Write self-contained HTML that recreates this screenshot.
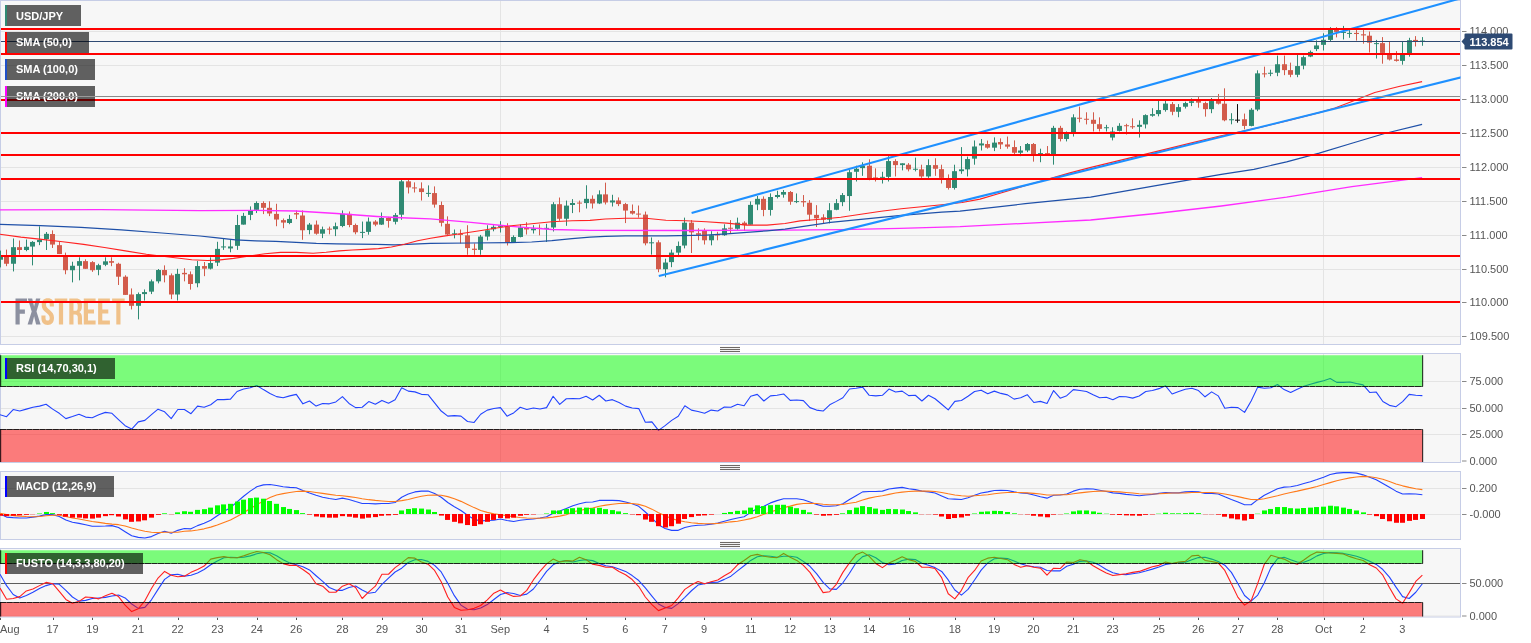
<!DOCTYPE html>
<html><head><meta charset="utf-8"><title>USD/JPY</title>
<style>
html,body{margin:0;padding:0;background:#fff;}
body{width:1531px;height:643px;overflow:hidden;font-family:"Liberation Sans",sans-serif;}
svg{display:block}
.ax{font-family:"Liberation Sans",sans-serif;font-size:11px;fill:#555;}
.pl{font-family:"Liberation Sans",sans-serif;font-size:11px;font-weight:bold;fill:#fff;}
.lb{font-family:"Liberation Sans",sans-serif;font-size:11px;font-weight:bold;fill:#fff;}
</style></head><body>
<svg width="1531" height="643" viewBox="0 0 1531 643">
<defs>
<filter id="ga" x="-5%" y="-30%" width="110%" height="160%"><feOffset dx="0" dy="0"/></filter>
<clipPath id="cm"><rect x="0" y="0" width="1460.5" height="345"/></clipPath>
<clipPath id="cr"><rect x="0" y="355.2" width="1460.5" height="106.8"/></clipPath>
<clipPath id="cd"><rect x="0" y="472" width="1460.5" height="67"/></clipPath>
<clipPath id="cf"><rect x="0" y="550.2" width="1460.5" height="66.3"/></clipPath>
</defs>
<rect x="0.5" y="0.5" width="1460.0" height="344.0" fill="#f7f7f7" stroke="#c6cde6" stroke-width="1"/>
<rect x="0.5" y="353.5" width="1460.0" height="109.0" fill="#f7f7f7" stroke="#c6cde6" stroke-width="1"/>
<rect x="0.5" y="471.5" width="1460.0" height="68.0" fill="#f7f7f7" stroke="#c6cde6" stroke-width="1"/>
<rect x="0.5" y="548.5" width="1460.0" height="68.5" fill="#f7f7f7" stroke="#c6cde6" stroke-width="1"/>
<line x1="1" y1="31.5" x2="1460.0" y2="31.5" stroke="#e4e4e4" stroke-width="1" />
<line x1="1" y1="65.5" x2="1460.0" y2="65.5" stroke="#e4e4e4" stroke-width="1" />
<line x1="1" y1="99.5" x2="1460.0" y2="99.5" stroke="#e4e4e4" stroke-width="1" />
<line x1="1" y1="133.5" x2="1460.0" y2="133.5" stroke="#e4e4e4" stroke-width="1" />
<line x1="1" y1="167.5" x2="1460.0" y2="167.5" stroke="#e4e4e4" stroke-width="1" />
<line x1="1" y1="201.5" x2="1460.0" y2="201.5" stroke="#e4e4e4" stroke-width="1" />
<line x1="1" y1="235.5" x2="1460.0" y2="235.5" stroke="#e4e4e4" stroke-width="1" />
<line x1="1" y1="269.5" x2="1460.0" y2="269.5" stroke="#e4e4e4" stroke-width="1" />
<line x1="1" y1="302.5" x2="1460.0" y2="302.5" stroke="#e4e4e4" stroke-width="1" />
<line x1="1" y1="336.5" x2="1460.0" y2="336.5" stroke="#e4e4e4" stroke-width="1" />
<line x1="500.5" y1="1" x2="500.5" y2="344" stroke="#e4e4e4" stroke-width="1"/>
<line x1="1323.5" y1="1" x2="1323.5" y2="344" stroke="#e4e4e4" stroke-width="1"/>
<line x1="500.5" y1="354" x2="500.5" y2="462" stroke="#e4e4e4" stroke-width="1"/>
<line x1="1323.5" y1="354" x2="1323.5" y2="462" stroke="#e4e4e4" stroke-width="1"/>
<line x1="500.5" y1="472" x2="500.5" y2="539" stroke="#e4e4e4" stroke-width="1"/>
<line x1="1323.5" y1="472" x2="1323.5" y2="539" stroke="#e4e4e4" stroke-width="1"/>
<line x1="500.5" y1="549" x2="500.5" y2="616.5" stroke="#e4e4e4" stroke-width="1"/>
<line x1="1323.5" y1="549" x2="1323.5" y2="616.5" stroke="#e4e4e4" stroke-width="1"/>
<line x1="1" y1="381.5" x2="1460.0" y2="381.5" stroke="#e4e4e4" stroke-width="1" />
<line x1="1" y1="408.5" x2="1460.0" y2="408.5" stroke="#e4e4e4" stroke-width="1" />
<line x1="1" y1="434.5" x2="1460.0" y2="434.5" stroke="#e4e4e4" stroke-width="1" />
<line x1="1" y1="488.5" x2="1460.0" y2="488.5" stroke="#e4e4e4" stroke-width="1" />
<line x1="1" y1="514.5" x2="1460.0" y2="514.5" stroke="#e4e4e4" stroke-width="1" />
<g clip-path="url(#cm)">
<line x1="0.5" y1="250.61" x2="0.5" y2="267.4" stroke="#2f8a73" stroke-width="1"/>
<rect x="-2.0" y="255.67" width="5" height="4.04" fill="#2f8a73"/>
<line x1="6.5" y1="249.6" x2="6.5" y2="266.18" stroke="#d25b4b" stroke-width="1"/>
<rect x="4.0" y="256.68" width="5" height="7.08" fill="#d25b4b"/>
<line x1="13.5" y1="238.48" x2="13.5" y2="271.44" stroke="#2f8a73" stroke-width="1"/>
<rect x="11.0" y="247.17" width="5" height="16.58" fill="#2f8a73"/>
<line x1="19.5" y1="240.5" x2="19.5" y2="254.66" stroke="#d25b4b" stroke-width="1"/>
<rect x="17.0" y="247.17" width="5" height="2.83" fill="#d25b4b"/>
<line x1="26.5" y1="239.49" x2="26.5" y2="251.22" stroke="#2f8a73" stroke-width="1"/>
<rect x="24.0" y="246.77" width="5" height="3.24" fill="#2f8a73"/>
<line x1="32.5" y1="241.11" x2="32.5" y2="265.37" stroke="#2f8a73" stroke-width="1"/>
<rect x="30.0" y="241.92" width="5" height="4.65" fill="#2f8a73"/>
<line x1="39.5" y1="226.34" x2="39.5" y2="245.15" stroke="#2f8a73" stroke-width="1"/>
<rect x="37.0" y="239.89" width="5" height="2.22" fill="#2f8a73"/>
<line x1="46.5" y1="232.01" x2="46.5" y2="250.01" stroke="#2f8a73" stroke-width="1"/>
<rect x="44.0" y="233.83" width="5" height="5.26" fill="#2f8a73"/>
<line x1="52.5" y1="230.39" x2="52.5" y2="247.98" stroke="#d25b4b" stroke-width="1"/>
<rect x="50.0" y="234.03" width="5" height="10.52" fill="#d25b4b"/>
<line x1="59.5" y1="241.92" x2="59.5" y2="254.05" stroke="#d25b4b" stroke-width="1"/>
<rect x="57.0" y="245.15" width="5" height="8.9" fill="#d25b4b"/>
<line x1="65.5" y1="252.63" x2="65.5" y2="274.27" stroke="#d25b4b" stroke-width="1"/>
<rect x="63.0" y="255.06" width="5" height="15.17" fill="#d25b4b"/>
<line x1="72.5" y1="261.73" x2="72.5" y2="282.36" stroke="#2f8a73" stroke-width="1"/>
<rect x="70.0" y="265.78" width="5" height="4.45" fill="#2f8a73"/>
<line x1="79.5" y1="257.29" x2="79.5" y2="280.34" stroke="#2f8a73" stroke-width="1"/>
<rect x="77.0" y="261.13" width="5" height="4.65" fill="#2f8a73"/>
<line x1="85.5" y1="259.31" x2="85.5" y2="268.81" stroke="#d25b4b" stroke-width="1"/>
<rect x="83.0" y="261.13" width="5" height="7.68" fill="#d25b4b"/>
<line x1="92.5" y1="261.13" x2="92.5" y2="271.85" stroke="#d25b4b" stroke-width="1"/>
<rect x="90.0" y="262.14" width="5" height="8.09" fill="#d25b4b"/>
<line x1="98.5" y1="263.76" x2="98.5" y2="275.28" stroke="#2f8a73" stroke-width="1"/>
<rect x="96.0" y="265.17" width="5" height="4.65" fill="#2f8a73"/>
<line x1="105.5" y1="257.29" x2="105.5" y2="266.18" stroke="#2f8a73" stroke-width="1"/>
<rect x="103.0" y="261.33" width="5" height="3.44" fill="#2f8a73"/>
<line x1="111.5" y1="257.29" x2="111.5" y2="266.18" stroke="#d25b4b" stroke-width="1"/>
<rect x="109.0" y="261.13" width="5" height="1.62" fill="#d25b4b"/>
<line x1="118.5" y1="262.75" x2="118.5" y2="284.99" stroke="#d25b4b" stroke-width="1"/>
<rect x="116.0" y="263.76" width="5" height="12.94" fill="#d25b4b"/>
<line x1="125.5" y1="275.28" x2="125.5" y2="294.9" stroke="#d25b4b" stroke-width="1"/>
<rect x="123.0" y="276.7" width="5" height="18.2" fill="#d25b4b"/>
<line x1="131.5" y1="288.43" x2="131.5" y2="309.46" stroke="#d25b4b" stroke-width="1"/>
<rect x="129.0" y="294.49" width="5" height="11.32" fill="#d25b4b"/>
<line x1="138.5" y1="292.47" x2="138.5" y2="319.37" stroke="#2f8a73" stroke-width="1"/>
<rect x="136.0" y="294.09" width="5" height="11.73" fill="#2f8a73"/>
<line x1="144.5" y1="289.44" x2="144.5" y2="300.56" stroke="#2f8a73" stroke-width="1"/>
<rect x="142.0" y="292.07" width="5" height="2.02" fill="#2f8a73"/>
<line x1="151.5" y1="279.53" x2="151.5" y2="294.09" stroke="#2f8a73" stroke-width="1"/>
<rect x="149.0" y="281.35" width="5" height="10.31" fill="#2f8a73"/>
<line x1="158.5" y1="269.01" x2="158.5" y2="283.37" stroke="#2f8a73" stroke-width="1"/>
<rect x="156.0" y="270.03" width="5" height="11.32" fill="#2f8a73"/>
<line x1="164.5" y1="265.37" x2="164.5" y2="282.36" stroke="#d25b4b" stroke-width="1"/>
<rect x="162.0" y="270.03" width="5" height="5.26" fill="#d25b4b"/>
<line x1="171.5" y1="273.46" x2="171.5" y2="299.15" stroke="#d25b4b" stroke-width="1"/>
<rect x="169.0" y="275.28" width="5" height="19.21" fill="#d25b4b"/>
<line x1="177.5" y1="268.81" x2="177.5" y2="300.56" stroke="#2f8a73" stroke-width="1"/>
<rect x="175.0" y="273.87" width="5" height="20.63" fill="#2f8a73"/>
<line x1="184.5" y1="268.21" x2="184.5" y2="281.35" stroke="#d25b4b" stroke-width="1"/>
<rect x="182.0" y="272.86" width="5" height="1.42" fill="#d25b4b"/>
<line x1="190.5" y1="271.44" x2="190.5" y2="289.64" stroke="#d25b4b" stroke-width="1"/>
<rect x="188.0" y="274.27" width="5" height="9.71" fill="#d25b4b"/>
<line x1="197.5" y1="261" x2="197.5" y2="287.29" stroke="#2f8a73" stroke-width="1"/>
<rect x="195.0" y="266.06" width="5" height="17.19" fill="#2f8a73"/>
<line x1="204.5" y1="262.01" x2="204.5" y2="276.17" stroke="#d25b4b" stroke-width="1"/>
<rect x="202.0" y="266.06" width="5" height="2.63" fill="#d25b4b"/>
<line x1="210.5" y1="257.36" x2="210.5" y2="269.49" stroke="#2f8a73" stroke-width="1"/>
<rect x="208.0" y="263.02" width="5" height="5.66" fill="#2f8a73"/>
<line x1="217.5" y1="241.79" x2="217.5" y2="266.06" stroke="#2f8a73" stroke-width="1"/>
<rect x="215.0" y="248.87" width="5" height="13.75" fill="#2f8a73"/>
<line x1="223.5" y1="238.76" x2="223.5" y2="249.88" stroke="#2f8a73" stroke-width="1"/>
<rect x="221.0" y="246.44" width="5" height="1" fill="#2f8a73"/>
<line x1="230.5" y1="239.77" x2="230.5" y2="252.31" stroke="#2f8a73" stroke-width="1"/>
<rect x="228.0" y="246.44" width="5" height="2.02" fill="#2f8a73"/>
<line x1="237.5" y1="214.89" x2="237.5" y2="249.88" stroke="#2f8a73" stroke-width="1"/>
<rect x="235.0" y="225.01" width="5" height="20.83" fill="#2f8a73"/>
<line x1="243.5" y1="212.87" x2="243.5" y2="224.6" stroke="#2f8a73" stroke-width="1"/>
<rect x="241.0" y="215.9" width="5" height="8.7" fill="#2f8a73"/>
<line x1="250.5" y1="206.4" x2="250.5" y2="220.15" stroke="#2f8a73" stroke-width="1"/>
<rect x="248.0" y="210.44" width="5" height="4.45" fill="#2f8a73"/>
<line x1="256.5" y1="201.34" x2="256.5" y2="213.07" stroke="#2f8a73" stroke-width="1"/>
<rect x="254.0" y="202.96" width="5" height="6.88" fill="#2f8a73"/>
<line x1="263.5" y1="201.34" x2="263.5" y2="214.08" stroke="#d25b4b" stroke-width="1"/>
<rect x="261.0" y="202.96" width="5" height="4.85" fill="#d25b4b"/>
<line x1="269.5" y1="201.34" x2="269.5" y2="216.11" stroke="#d25b4b" stroke-width="1"/>
<rect x="267.0" y="207.82" width="5" height="5.66" fill="#d25b4b"/>
<line x1="276.5" y1="203.77" x2="276.5" y2="226.22" stroke="#d25b4b" stroke-width="1"/>
<rect x="274.0" y="213.88" width="5" height="5.66" fill="#d25b4b"/>
<line x1="283.5" y1="218.53" x2="283.5" y2="228.24" stroke="#d25b4b" stroke-width="1"/>
<rect x="281.0" y="220.15" width="5" height="2.43" fill="#d25b4b"/>
<line x1="289.5" y1="214.89" x2="289.5" y2="224.2" stroke="#2f8a73" stroke-width="1"/>
<rect x="287.0" y="218.94" width="5" height="4.04" fill="#2f8a73"/>
<line x1="296.5" y1="210.44" x2="296.5" y2="219.14" stroke="#d25b4b" stroke-width="1"/>
<rect x="294.0" y="213.07" width="5" height="1.42" fill="#d25b4b"/>
<line x1="302.5" y1="210.44" x2="302.5" y2="239.77" stroke="#d25b4b" stroke-width="1"/>
<rect x="300.0" y="215.5" width="5" height="14.76" fill="#d25b4b"/>
<line x1="309.5" y1="222.98" x2="309.5" y2="234.31" stroke="#2f8a73" stroke-width="1"/>
<rect x="307.0" y="224.6" width="5" height="5.46" fill="#2f8a73"/>
<line x1="316.5" y1="220.56" x2="316.5" y2="234.71" stroke="#d25b4b" stroke-width="1"/>
<rect x="314.0" y="224.6" width="5" height="9.1" fill="#d25b4b"/>
<line x1="322.5" y1="226.62" x2="322.5" y2="238.15" stroke="#2f8a73" stroke-width="1"/>
<rect x="320.0" y="229.25" width="5" height="4.45" fill="#2f8a73"/>
<line x1="329.5" y1="226.62" x2="329.5" y2="234.31" stroke="#d25b4b" stroke-width="1"/>
<rect x="327.0" y="228.65" width="5" height="1" fill="#d25b4b"/>
<line x1="335.5" y1="222.58" x2="335.5" y2="236.13" stroke="#2f8a73" stroke-width="1"/>
<rect x="333.0" y="226.22" width="5" height="3.03" fill="#2f8a73"/>
<line x1="342.5" y1="210.44" x2="342.5" y2="227.23" stroke="#2f8a73" stroke-width="1"/>
<rect x="340.0" y="213.88" width="5" height="12.13" fill="#2f8a73"/>
<line x1="349.5" y1="211.46" x2="349.5" y2="227.23" stroke="#d25b4b" stroke-width="1"/>
<rect x="347.0" y="213.88" width="5" height="11.12" fill="#d25b4b"/>
<line x1="355.5" y1="223.59" x2="355.5" y2="234.31" stroke="#d25b4b" stroke-width="1"/>
<rect x="353.0" y="225.01" width="5" height="7.28" fill="#d25b4b"/>
<line x1="362.5" y1="221.57" x2="362.5" y2="238.15" stroke="#2f8a73" stroke-width="1"/>
<rect x="360.0" y="231.88" width="5" height="1" fill="#2f8a73"/>
<line x1="368.5" y1="217.52" x2="368.5" y2="234.71" stroke="#2f8a73" stroke-width="1"/>
<rect x="366.0" y="221.57" width="5" height="10.31" fill="#2f8a73"/>
<line x1="375.5" y1="220.15" x2="375.5" y2="226.22" stroke="#d25b4b" stroke-width="1"/>
<rect x="373.0" y="221.57" width="5" height="3.03" fill="#d25b4b"/>
<line x1="381.5" y1="212.47" x2="381.5" y2="225.01" stroke="#2f8a73" stroke-width="1"/>
<rect x="379.0" y="217.93" width="5" height="6.67" fill="#2f8a73"/>
<line x1="388.5" y1="216.92" x2="388.5" y2="227.63" stroke="#d25b4b" stroke-width="1"/>
<rect x="386.0" y="217.93" width="5" height="3.03" fill="#d25b4b"/>
<line x1="395.5" y1="213.09" x2="395.5" y2="224.42" stroke="#2f8a73" stroke-width="1"/>
<rect x="393.0" y="215.12" width="5" height="6.67" fill="#2f8a73"/>
<line x1="401.5" y1="179.93" x2="401.5" y2="219.77" stroke="#2f8a73" stroke-width="1"/>
<rect x="399.0" y="181.34" width="5" height="33.37" fill="#2f8a73"/>
<line x1="408.5" y1="179.93" x2="408.5" y2="193.48" stroke="#d25b4b" stroke-width="1"/>
<rect x="406.0" y="181.34" width="5" height="6.07" fill="#d25b4b"/>
<line x1="414.5" y1="182.36" x2="414.5" y2="192.47" stroke="#d25b4b" stroke-width="1"/>
<rect x="412.0" y="187.41" width="5" height="1.01" fill="#d25b4b"/>
<line x1="421.5" y1="182.36" x2="421.5" y2="200.56" stroke="#d25b4b" stroke-width="1"/>
<rect x="419.0" y="188.42" width="5" height="3.64" fill="#d25b4b"/>
<line x1="428.5" y1="185.39" x2="428.5" y2="196.92" stroke="#2f8a73" stroke-width="1"/>
<rect x="426.0" y="192.87" width="5" height="1" fill="#2f8a73"/>
<line x1="434.5" y1="186.4" x2="434.5" y2="207.63" stroke="#d25b4b" stroke-width="1"/>
<rect x="432.0" y="193.07" width="5" height="11.53" fill="#d25b4b"/>
<line x1="441.5" y1="201.57" x2="441.5" y2="226.44" stroke="#d25b4b" stroke-width="1"/>
<rect x="439.0" y="205.01" width="5" height="17.8" fill="#d25b4b"/>
<line x1="447.5" y1="216.33" x2="447.5" y2="235.95" stroke="#d25b4b" stroke-width="1"/>
<rect x="445.0" y="223.81" width="5" height="10.72" fill="#d25b4b"/>
<line x1="454.5" y1="229.47" x2="454.5" y2="238.37" stroke="#2f8a73" stroke-width="1"/>
<rect x="452.0" y="233.32" width="5" height="1" fill="#2f8a73"/>
<line x1="460.5" y1="229.47" x2="460.5" y2="243.43" stroke="#d25b4b" stroke-width="1"/>
<rect x="458.0" y="233.92" width="5" height="1" fill="#d25b4b"/>
<line x1="467.5" y1="225.23" x2="467.5" y2="254.75" stroke="#d25b4b" stroke-width="1"/>
<rect x="465.0" y="235.34" width="5" height="12.74" fill="#d25b4b"/>
<line x1="474.5" y1="243.43" x2="474.5" y2="254.75" stroke="#d25b4b" stroke-width="1"/>
<rect x="472.0" y="248.69" width="5" height="1.21" fill="#d25b4b"/>
<line x1="480.5" y1="234.93" x2="480.5" y2="254.75" stroke="#2f8a73" stroke-width="1"/>
<rect x="478.0" y="236.55" width="5" height="13.35" fill="#2f8a73"/>
<line x1="487.5" y1="225.23" x2="487.5" y2="240.39" stroke="#2f8a73" stroke-width="1"/>
<rect x="485.0" y="230.28" width="5" height="6.27" fill="#2f8a73"/>
<line x1="493.5" y1="225.23" x2="493.5" y2="231.29" stroke="#2f8a73" stroke-width="1"/>
<rect x="491.0" y="226.85" width="5" height="2.43" fill="#2f8a73"/>
<line x1="500.5" y1="221.18" x2="500.5" y2="232.51" stroke="#2f8a73" stroke-width="1"/>
<rect x="498.0" y="225.63" width="5" height="1.21" fill="#2f8a73"/>
<line x1="507.5" y1="223.21" x2="507.5" y2="245.45" stroke="#d25b4b" stroke-width="1"/>
<rect x="505.0" y="226.44" width="5" height="15.57" fill="#d25b4b"/>
<line x1="513.5" y1="235.34" x2="513.5" y2="242.01" stroke="#2f8a73" stroke-width="1"/>
<rect x="511.0" y="236.96" width="5" height="5.06" fill="#2f8a73"/>
<line x1="520.5" y1="224.42" x2="520.5" y2="237.36" stroke="#2f8a73" stroke-width="1"/>
<rect x="518.0" y="227.45" width="5" height="9.5" fill="#2f8a73"/>
<line x1="526.5" y1="222.19" x2="526.5" y2="234.53" stroke="#d25b4b" stroke-width="1"/>
<rect x="524.0" y="227.45" width="5" height="2.02" fill="#d25b4b"/>
<line x1="533.5" y1="225.23" x2="533.5" y2="233.52" stroke="#2f8a73" stroke-width="1"/>
<rect x="531.0" y="228.46" width="5" height="1.82" fill="#2f8a73"/>
<line x1="539.5" y1="224.42" x2="539.5" y2="235.34" stroke="#d25b4b" stroke-width="1"/>
<rect x="537.0" y="227.86" width="5" height="1" fill="#d25b4b"/>
<line x1="546.5" y1="223.81" x2="546.5" y2="242.01" stroke="#2f8a73" stroke-width="1"/>
<rect x="544.0" y="227.86" width="5" height="1" fill="#2f8a73"/>
<line x1="553.5" y1="202.17" x2="553.5" y2="231.5" stroke="#2f8a73" stroke-width="1"/>
<rect x="551.0" y="204.2" width="5" height="23.26" fill="#2f8a73"/>
<line x1="559.5" y1="197.52" x2="559.5" y2="220.78" stroke="#d25b4b" stroke-width="1"/>
<rect x="557.0" y="204.2" width="5" height="14.56" fill="#d25b4b"/>
<line x1="566.5" y1="200.56" x2="566.5" y2="225.83" stroke="#2f8a73" stroke-width="1"/>
<rect x="564.0" y="205.61" width="5" height="13.14" fill="#2f8a73"/>
<line x1="572.5" y1="199.14" x2="572.5" y2="213.09" stroke="#2f8a73" stroke-width="1"/>
<rect x="570.0" y="202.98" width="5" height="2.02" fill="#2f8a73"/>
<line x1="579.5" y1="200.56" x2="579.5" y2="212.29" stroke="#d25b4b" stroke-width="1"/>
<rect x="577.0" y="202.58" width="5" height="1.01" fill="#d25b4b"/>
<line x1="586.5" y1="185.28" x2="586.5" y2="208.53" stroke="#2f8a73" stroke-width="1"/>
<rect x="584.0" y="198.83" width="5" height="4.25" fill="#2f8a73"/>
<line x1="592.5" y1="195.39" x2="592.5" y2="208.53" stroke="#d25b4b" stroke-width="1"/>
<rect x="590.0" y="198.83" width="5" height="4.65" fill="#d25b4b"/>
<line x1="599.5" y1="190.33" x2="599.5" y2="204.08" stroke="#2f8a73" stroke-width="1"/>
<rect x="597.0" y="194.38" width="5" height="9.1" fill="#2f8a73"/>
<line x1="605.5" y1="182.65" x2="605.5" y2="204.49" stroke="#d25b4b" stroke-width="1"/>
<rect x="603.0" y="194.38" width="5" height="8.09" fill="#d25b4b"/>
<line x1="612.5" y1="194.78" x2="612.5" y2="206.51" stroke="#2f8a73" stroke-width="1"/>
<rect x="610.0" y="200.44" width="5" height="2.02" fill="#2f8a73"/>
<line x1="618.5" y1="197.41" x2="618.5" y2="206.11" stroke="#d25b4b" stroke-width="1"/>
<rect x="616.0" y="200.44" width="5" height="3.64" fill="#d25b4b"/>
<line x1="625.5" y1="202.87" x2="625.5" y2="223.09" stroke="#d25b4b" stroke-width="1"/>
<rect x="623.0" y="204.08" width="5" height="6.47" fill="#d25b4b"/>
<line x1="632.5" y1="204.49" x2="632.5" y2="214.6" stroke="#d25b4b" stroke-width="1"/>
<rect x="630.0" y="210.96" width="5" height="2.63" fill="#d25b4b"/>
<line x1="638.5" y1="205.5" x2="638.5" y2="217.63" stroke="#d25b4b" stroke-width="1"/>
<rect x="636.0" y="213.59" width="5" height="1.01" fill="#d25b4b"/>
<line x1="645.5" y1="211.57" x2="645.5" y2="245.34" stroke="#d25b4b" stroke-width="1"/>
<rect x="643.0" y="214.6" width="5" height="28.72" fill="#d25b4b"/>
<line x1="651.5" y1="237.45" x2="651.5" y2="254.64" stroke="#2f8a73" stroke-width="1"/>
<rect x="649.0" y="242.31" width="5" height="1.01" fill="#2f8a73"/>
<line x1="658.5" y1="240.28" x2="658.5" y2="272.23" stroke="#d25b4b" stroke-width="1"/>
<rect x="656.0" y="242.31" width="5" height="26.9" fill="#d25b4b"/>
<line x1="665.5" y1="258.69" x2="665.5" y2="277.29" stroke="#2f8a73" stroke-width="1"/>
<rect x="663.0" y="262.53" width="5" height="6.67" fill="#2f8a73"/>
<line x1="671.5" y1="249.59" x2="671.5" y2="267.18" stroke="#2f8a73" stroke-width="1"/>
<rect x="669.0" y="252.62" width="5" height="9.5" fill="#2f8a73"/>
<line x1="678.5" y1="241.5" x2="678.5" y2="257.07" stroke="#2f8a73" stroke-width="1"/>
<rect x="676.0" y="245.95" width="5" height="6.67" fill="#2f8a73"/>
<line x1="684.5" y1="217.63" x2="684.5" y2="248.37" stroke="#2f8a73" stroke-width="1"/>
<rect x="682.0" y="222.69" width="5" height="22.85" fill="#2f8a73"/>
<line x1="691.5" y1="220.06" x2="691.5" y2="253.02" stroke="#d25b4b" stroke-width="1"/>
<rect x="689.0" y="222.69" width="5" height="9.71" fill="#d25b4b"/>
<line x1="698.5" y1="228.35" x2="698.5" y2="240.28" stroke="#d25b4b" stroke-width="1"/>
<rect x="696.0" y="233.21" width="5" height="1.62" fill="#d25b4b"/>
<line x1="704.5" y1="228.35" x2="704.5" y2="244.53" stroke="#d25b4b" stroke-width="1"/>
<rect x="702.0" y="230.78" width="5" height="9.5" fill="#d25b4b"/>
<line x1="711.5" y1="231.18" x2="711.5" y2="245.34" stroke="#2f8a73" stroke-width="1"/>
<rect x="709.0" y="235.23" width="5" height="5.06" fill="#2f8a73"/>
<line x1="717.5" y1="231.79" x2="717.5" y2="240.28" stroke="#d25b4b" stroke-width="1"/>
<rect x="715.0" y="234.42" width="5" height="1.01" fill="#d25b4b"/>
<line x1="724.5" y1="224.31" x2="724.5" y2="235.83" stroke="#2f8a73" stroke-width="1"/>
<rect x="722.0" y="228.35" width="5" height="6.88" fill="#2f8a73"/>
<line x1="730.5" y1="220.06" x2="730.5" y2="233.21" stroke="#d25b4b" stroke-width="1"/>
<rect x="728.0" y="227.75" width="5" height="1" fill="#d25b4b"/>
<line x1="737.5" y1="217.63" x2="737.5" y2="229.77" stroke="#2f8a73" stroke-width="1"/>
<rect x="735.0" y="222.69" width="5" height="6.07" fill="#2f8a73"/>
<line x1="744.5" y1="221.27" x2="744.5" y2="230.78" stroke="#d25b4b" stroke-width="1"/>
<rect x="742.0" y="222.69" width="5" height="2.43" fill="#d25b4b"/>
<line x1="750.5" y1="201.46" x2="750.5" y2="224.71" stroke="#2f8a73" stroke-width="1"/>
<rect x="748.0" y="204.89" width="5" height="19.82" fill="#2f8a73"/>
<line x1="757.5" y1="196" x2="757.5" y2="210.15" stroke="#2f8a73" stroke-width="1"/>
<rect x="755.0" y="198.83" width="5" height="5.66" fill="#2f8a73"/>
<line x1="763.5" y1="196.4" x2="763.5" y2="216.22" stroke="#d25b4b" stroke-width="1"/>
<rect x="761.0" y="198.83" width="5" height="11.12" fill="#d25b4b"/>
<line x1="770.5" y1="193.37" x2="770.5" y2="215.61" stroke="#2f8a73" stroke-width="1"/>
<rect x="768.0" y="197.01" width="5" height="12.94" fill="#2f8a73"/>
<line x1="777.5" y1="190.74" x2="777.5" y2="198.42" stroke="#2f8a73" stroke-width="1"/>
<rect x="775.0" y="194.98" width="5" height="2.02" fill="#2f8a73"/>
<line x1="783.5" y1="189.99" x2="783.5" y2="197.67" stroke="#2f8a73" stroke-width="1"/>
<rect x="781.0" y="192.01" width="5" height="2.63" fill="#2f8a73"/>
<line x1="790.5" y1="191" x2="790.5" y2="204.75" stroke="#d25b4b" stroke-width="1"/>
<rect x="788.0" y="192.01" width="5" height="9.71" fill="#d25b4b"/>
<line x1="796.5" y1="193.43" x2="796.5" y2="203.13" stroke="#2f8a73" stroke-width="1"/>
<rect x="794.0" y="201.11" width="5" height="1" fill="#2f8a73"/>
<line x1="803.5" y1="195.05" x2="803.5" y2="206.77" stroke="#d25b4b" stroke-width="1"/>
<rect x="801.0" y="201.11" width="5" height="1.21" fill="#d25b4b"/>
<line x1="809.5" y1="200.1" x2="809.5" y2="220.93" stroke="#d25b4b" stroke-width="1"/>
<rect x="807.0" y="202.73" width="5" height="11.93" fill="#d25b4b"/>
<line x1="816.5" y1="205.16" x2="816.5" y2="227" stroke="#d25b4b" stroke-width="1"/>
<rect x="814.0" y="214.86" width="5" height="3.44" fill="#d25b4b"/>
<line x1="823.5" y1="214.26" x2="823.5" y2="223.76" stroke="#d25b4b" stroke-width="1"/>
<rect x="821.0" y="217.29" width="5" height="2.43" fill="#d25b4b"/>
<line x1="829.5" y1="203.13" x2="829.5" y2="223.36" stroke="#2f8a73" stroke-width="1"/>
<rect x="827.0" y="210.21" width="5" height="9.5" fill="#2f8a73"/>
<line x1="836.5" y1="199.09" x2="836.5" y2="210.21" stroke="#2f8a73" stroke-width="1"/>
<rect x="834.0" y="203.13" width="5" height="6.67" fill="#2f8a73"/>
<line x1="842.5" y1="193.02" x2="842.5" y2="206.17" stroke="#2f8a73" stroke-width="1"/>
<rect x="840.0" y="195.05" width="5" height="7.08" fill="#2f8a73"/>
<line x1="849.5" y1="169.77" x2="849.5" y2="210.82" stroke="#2f8a73" stroke-width="1"/>
<rect x="847.0" y="172.19" width="5" height="23.86" fill="#2f8a73"/>
<line x1="856.5" y1="165.72" x2="856.5" y2="181.5" stroke="#2f8a73" stroke-width="1"/>
<rect x="854.0" y="168.76" width="5" height="3.03" fill="#2f8a73"/>
<line x1="862.5" y1="162.29" x2="862.5" y2="175.83" stroke="#2f8a73" stroke-width="1"/>
<rect x="860.0" y="165.72" width="5" height="2.43" fill="#2f8a73"/>
<line x1="869.5" y1="159.25" x2="869.5" y2="180.28" stroke="#d25b4b" stroke-width="1"/>
<rect x="867.0" y="165.72" width="5" height="12.74" fill="#d25b4b"/>
<line x1="875.5" y1="168.35" x2="875.5" y2="181.5" stroke="#d25b4b" stroke-width="1"/>
<rect x="873.0" y="177.45" width="5" height="1" fill="#d25b4b"/>
<line x1="882.5" y1="171.79" x2="882.5" y2="183.52" stroke="#2f8a73" stroke-width="1"/>
<rect x="880.0" y="176.85" width="5" height="1.01" fill="#2f8a73"/>
<line x1="888.5" y1="156.22" x2="888.5" y2="181.5" stroke="#2f8a73" stroke-width="1"/>
<rect x="886.0" y="161.07" width="5" height="15.77" fill="#2f8a73"/>
<line x1="895.5" y1="159.25" x2="895.5" y2="176.44" stroke="#d25b4b" stroke-width="1"/>
<rect x="893.0" y="161.07" width="5" height="4.04" fill="#d25b4b"/>
<line x1="902.5" y1="163.3" x2="902.5" y2="170.37" stroke="#2f8a73" stroke-width="1"/>
<rect x="900.0" y="163.3" width="5" height="1.82" fill="#2f8a73"/>
<line x1="908.5" y1="163.09" x2="908.5" y2="171.39" stroke="#d25b4b" stroke-width="1"/>
<rect x="906.0" y="164.71" width="5" height="4.65" fill="#d25b4b"/>
<line x1="915.5" y1="157.63" x2="915.5" y2="171.39" stroke="#2f8a73" stroke-width="1"/>
<rect x="913.0" y="168.76" width="5" height="1" fill="#2f8a73"/>
<line x1="921.5" y1="164.71" x2="921.5" y2="177.86" stroke="#d25b4b" stroke-width="1"/>
<rect x="919.0" y="169.36" width="5" height="7.08" fill="#d25b4b"/>
<line x1="928.5" y1="159.25" x2="928.5" y2="177.86" stroke="#2f8a73" stroke-width="1"/>
<rect x="926.0" y="165.12" width="5" height="11.32" fill="#2f8a73"/>
<line x1="935.5" y1="158.24" x2="935.5" y2="175.83" stroke="#d25b4b" stroke-width="1"/>
<rect x="933.0" y="165.12" width="5" height="3.64" fill="#d25b4b"/>
<line x1="941.5" y1="164.71" x2="941.5" y2="183.52" stroke="#d25b4b" stroke-width="1"/>
<rect x="939.0" y="169.16" width="5" height="8.7" fill="#d25b4b"/>
<line x1="948.5" y1="174.42" x2="948.5" y2="189.59" stroke="#d25b4b" stroke-width="1"/>
<rect x="946.0" y="178.46" width="5" height="9.5" fill="#d25b4b"/>
<line x1="954.5" y1="164.71" x2="954.5" y2="189.59" stroke="#2f8a73" stroke-width="1"/>
<rect x="952.0" y="171.18" width="5" height="16.78" fill="#2f8a73"/>
<line x1="961.5" y1="147.12" x2="961.5" y2="173.81" stroke="#2f8a73" stroke-width="1"/>
<rect x="959.0" y="169.36" width="5" height="1.82" fill="#2f8a73"/>
<line x1="967.5" y1="156.62" x2="967.5" y2="176.44" stroke="#2f8a73" stroke-width="1"/>
<rect x="965.0" y="159.05" width="5" height="10.31" fill="#2f8a73"/>
<line x1="974.5" y1="140.44" x2="974.5" y2="164.71" stroke="#2f8a73" stroke-width="1"/>
<rect x="972.0" y="146.51" width="5" height="12.13" fill="#2f8a73"/>
<line x1="981.5" y1="138.98" x2="981.5" y2="150.51" stroke="#2f8a73" stroke-width="1"/>
<rect x="979.0" y="143.43" width="5" height="2.02" fill="#2f8a73"/>
<line x1="987.5" y1="140.6" x2="987.5" y2="148.69" stroke="#d25b4b" stroke-width="1"/>
<rect x="985.0" y="144.03" width="5" height="3.64" fill="#d25b4b"/>
<line x1="994.5" y1="137.36" x2="994.5" y2="151.11" stroke="#2f8a73" stroke-width="1"/>
<rect x="992.0" y="142.62" width="5" height="5.06" fill="#2f8a73"/>
<line x1="1000.5" y1="138.37" x2="1000.5" y2="149.09" stroke="#d25b4b" stroke-width="1"/>
<rect x="998.0" y="142.01" width="5" height="2.43" fill="#d25b4b"/>
<line x1="1007.5" y1="136.55" x2="1007.5" y2="148.69" stroke="#d25b4b" stroke-width="1"/>
<rect x="1005.0" y="144.44" width="5" height="2.22" fill="#d25b4b"/>
<line x1="1014.5" y1="140.39" x2="1014.5" y2="154.15" stroke="#d25b4b" stroke-width="1"/>
<rect x="1012.0" y="147.07" width="5" height="5.66" fill="#d25b4b"/>
<line x1="1020.5" y1="146.06" x2="1020.5" y2="156.17" stroke="#2f8a73" stroke-width="1"/>
<rect x="1018.0" y="150.51" width="5" height="2.22" fill="#2f8a73"/>
<line x1="1027.5" y1="143.02" x2="1027.5" y2="152.12" stroke="#2f8a73" stroke-width="1"/>
<rect x="1025.0" y="144.03" width="5" height="6.47" fill="#2f8a73"/>
<line x1="1033.5" y1="143.02" x2="1033.5" y2="161.63" stroke="#d25b4b" stroke-width="1"/>
<rect x="1031.0" y="144.03" width="5" height="10.11" fill="#d25b4b"/>
<line x1="1040.5" y1="148.69" x2="1040.5" y2="162.23" stroke="#2f8a73" stroke-width="1"/>
<rect x="1038.0" y="153.13" width="5" height="1" fill="#2f8a73"/>
<line x1="1047.5" y1="146.06" x2="1047.5" y2="155.56" stroke="#d25b4b" stroke-width="1"/>
<rect x="1045.0" y="153.13" width="5" height="1.01" fill="#d25b4b"/>
<line x1="1053.5" y1="125.83" x2="1053.5" y2="164.66" stroke="#2f8a73" stroke-width="1"/>
<rect x="1051.0" y="127.86" width="5" height="26.29" fill="#2f8a73"/>
<line x1="1060.5" y1="125.83" x2="1060.5" y2="141.41" stroke="#d25b4b" stroke-width="1"/>
<rect x="1058.0" y="127.86" width="5" height="11.12" fill="#d25b4b"/>
<line x1="1066.5" y1="131.5" x2="1066.5" y2="141.41" stroke="#2f8a73" stroke-width="1"/>
<rect x="1064.0" y="133.52" width="5" height="5.46" fill="#2f8a73"/>
<line x1="1073.5" y1="114.31" x2="1073.5" y2="136.55" stroke="#2f8a73" stroke-width="1"/>
<rect x="1071.0" y="117.34" width="5" height="15.57" fill="#2f8a73"/>
<line x1="1079.5" y1="106.62" x2="1079.5" y2="122.4" stroke="#d25b4b" stroke-width="1"/>
<rect x="1077.0" y="117.75" width="5" height="1.01" fill="#d25b4b"/>
<line x1="1086.5" y1="112.29" x2="1086.5" y2="124.42" stroke="#d25b4b" stroke-width="1"/>
<rect x="1084.0" y="118.76" width="5" height="1.01" fill="#d25b4b"/>
<line x1="1093.5" y1="112.29" x2="1093.5" y2="131.5" stroke="#d25b4b" stroke-width="1"/>
<rect x="1091.0" y="119.77" width="5" height="4.04" fill="#d25b4b"/>
<line x1="1099.5" y1="117.34" x2="1099.5" y2="131.5" stroke="#d25b4b" stroke-width="1"/>
<rect x="1097.0" y="124.22" width="5" height="4.65" fill="#d25b4b"/>
<line x1="1106.5" y1="124.82" x2="1106.5" y2="131.5" stroke="#2f8a73" stroke-width="1"/>
<rect x="1104.0" y="127.25" width="5" height="1" fill="#2f8a73"/>
<line x1="1112.5" y1="127.25" x2="1112.5" y2="140.39" stroke="#2f8a73" stroke-width="1"/>
<rect x="1110.0" y="131.5" width="5" height="6.07" fill="#2f8a73"/>
<line x1="1119.5" y1="123.21" x2="1119.5" y2="131.5" stroke="#2f8a73" stroke-width="1"/>
<rect x="1117.0" y="125.83" width="5" height="5.06" fill="#2f8a73"/>
<line x1="1126.5" y1="123.81" x2="1126.5" y2="134.53" stroke="#d25b4b" stroke-width="1"/>
<rect x="1124.0" y="125.23" width="5" height="1" fill="#d25b4b"/>
<line x1="1132.5" y1="118.35" x2="1132.5" y2="128.87" stroke="#d25b4b" stroke-width="1"/>
<rect x="1130.0" y="126.24" width="5" height="1" fill="#d25b4b"/>
<line x1="1139.5" y1="120.37" x2="1139.5" y2="137.56" stroke="#2f8a73" stroke-width="1"/>
<rect x="1137.0" y="124.82" width="5" height="2.02" fill="#2f8a73"/>
<line x1="1145.5" y1="114.31" x2="1145.5" y2="128.46" stroke="#2f8a73" stroke-width="1"/>
<rect x="1143.0" y="115.12" width="5" height="9.3" fill="#2f8a73"/>
<line x1="1152.5" y1="108.24" x2="1152.5" y2="116.73" stroke="#2f8a73" stroke-width="1"/>
<rect x="1150.0" y="114.11" width="5" height="1.62" fill="#2f8a73"/>
<line x1="1158.5" y1="100.96" x2="1158.5" y2="116.33" stroke="#2f8a73" stroke-width="1"/>
<rect x="1156.0" y="110.06" width="5" height="4.04" fill="#2f8a73"/>
<line x1="1165.5" y1="100.96" x2="1165.5" y2="111.68" stroke="#2f8a73" stroke-width="1"/>
<rect x="1163.0" y="103.59" width="5" height="6.47" fill="#2f8a73"/>
<line x1="1172.5" y1="102.07" x2="1172.5" y2="115.21" stroke="#d25b4b" stroke-width="1"/>
<rect x="1170.0" y="104.09" width="5" height="7.68" fill="#d25b4b"/>
<line x1="1178.5" y1="104.09" x2="1178.5" y2="117.23" stroke="#2f8a73" stroke-width="1"/>
<rect x="1176.0" y="107.12" width="5" height="4.65" fill="#2f8a73"/>
<line x1="1185.5" y1="101.66" x2="1185.5" y2="108.54" stroke="#2f8a73" stroke-width="1"/>
<rect x="1183.0" y="103.08" width="5" height="3.64" fill="#2f8a73"/>
<line x1="1191.5" y1="98.43" x2="1191.5" y2="106.11" stroke="#2f8a73" stroke-width="1"/>
<rect x="1189.0" y="101.26" width="5" height="1.62" fill="#2f8a73"/>
<line x1="1198.5" y1="97.01" x2="1198.5" y2="107.73" stroke="#d25b4b" stroke-width="1"/>
<rect x="1196.0" y="100.65" width="5" height="2.02" fill="#d25b4b"/>
<line x1="1205.5" y1="101.66" x2="1205.5" y2="116.63" stroke="#d25b4b" stroke-width="1"/>
<rect x="1203.0" y="103.08" width="5" height="6.07" fill="#d25b4b"/>
<line x1="1211.5" y1="98.02" x2="1211.5" y2="113.19" stroke="#2f8a73" stroke-width="1"/>
<rect x="1209.0" y="101.06" width="5" height="8.09" fill="#2f8a73"/>
<line x1="1218.5" y1="93.98" x2="1218.5" y2="104.49" stroke="#d25b4b" stroke-width="1"/>
<rect x="1216.0" y="100.05" width="5" height="3.64" fill="#d25b4b"/>
<line x1="1224.5" y1="88.32" x2="1224.5" y2="121.28" stroke="#d25b4b" stroke-width="1"/>
<rect x="1222.0" y="103.69" width="5" height="16.58" fill="#d25b4b"/>
<line x1="1231.5" y1="113.19" x2="1231.5" y2="124.31" stroke="#2f8a73" stroke-width="1"/>
<rect x="1229.0" y="119.26" width="5" height="1.01" fill="#2f8a73"/>
<line x1="1237.5" y1="104.09" x2="1237.5" y2="122.69" stroke="#111" stroke-width="1"/>
<rect x="1235.0" y="119.66" width="5" height="1.01" fill="#111"/>
<line x1="1244.5" y1="113.59" x2="1244.5" y2="129.37" stroke="#d25b4b" stroke-width="1"/>
<rect x="1242.0" y="119.26" width="5" height="6.67" fill="#d25b4b"/>
<line x1="1251.5" y1="108.13" x2="1251.5" y2="126.33" stroke="#2f8a73" stroke-width="1"/>
<rect x="1249.0" y="109.75" width="5" height="16.18" fill="#2f8a73"/>
<line x1="1257.5" y1="70.32" x2="1257.5" y2="111.17" stroke="#2f8a73" stroke-width="1"/>
<rect x="1255.0" y="73.35" width="5" height="36.2" fill="#2f8a73"/>
<line x1="1264.5" y1="66.68" x2="1264.5" y2="77.4" stroke="#d25b4b" stroke-width="1"/>
<rect x="1262.0" y="73.35" width="5" height="1.01" fill="#d25b4b"/>
<line x1="1270.5" y1="69.71" x2="1270.5" y2="76.18" stroke="#2f8a73" stroke-width="1"/>
<rect x="1268.0" y="72.75" width="5" height="1.01" fill="#2f8a73"/>
<line x1="1277.5" y1="55.56" x2="1277.5" y2="76.18" stroke="#2f8a73" stroke-width="1"/>
<rect x="1275.0" y="64.25" width="5" height="8.49" fill="#2f8a73"/>
<line x1="1284.5" y1="55.56" x2="1284.5" y2="75.17" stroke="#d25b4b" stroke-width="1"/>
<rect x="1282.0" y="64.25" width="5" height="5.86" fill="#d25b4b"/>
<line x1="1290.5" y1="62.63" x2="1290.5" y2="77.19" stroke="#d25b4b" stroke-width="1"/>
<rect x="1288.0" y="70.12" width="5" height="4.65" fill="#d25b4b"/>
<line x1="1297.5" y1="54.95" x2="1297.5" y2="77.19" stroke="#2f8a73" stroke-width="1"/>
<rect x="1295.0" y="66.07" width="5" height="8.7" fill="#2f8a73"/>
<line x1="1303.5" y1="55.56" x2="1303.5" y2="69.31" stroke="#2f8a73" stroke-width="1"/>
<rect x="1301.0" y="57.17" width="5" height="8.49" fill="#2f8a73"/>
<line x1="1310.5" y1="50.5" x2="1310.5" y2="57.17" stroke="#2f8a73" stroke-width="1"/>
<rect x="1308.0" y="51.92" width="5" height="4.65" fill="#2f8a73"/>
<line x1="1316.5" y1="40.39" x2="1316.5" y2="51.11" stroke="#2f8a73" stroke-width="1"/>
<rect x="1314.0" y="45.44" width="5" height="3.64" fill="#2f8a73"/>
<line x1="1323.5" y1="33.31" x2="1323.5" y2="50.5" stroke="#2f8a73" stroke-width="1"/>
<rect x="1321.0" y="39.78" width="5" height="5.06" fill="#2f8a73"/>
<line x1="1330.5" y1="27.16" x2="1330.5" y2="41.3" stroke="#2f8a73" stroke-width="1"/>
<rect x="1328.0" y="28.7" width="5" height="11.2" fill="#2f8a73"/>
<line x1="1336.5" y1="27.16" x2="1336.5" y2="37.38" stroke="#d25b4b" stroke-width="1"/>
<rect x="1334.0" y="29.68" width="5" height="2.24" fill="#d25b4b"/>
<line x1="1343.5" y1="25.9" x2="1343.5" y2="39.48" stroke="#2f8a73" stroke-width="1"/>
<rect x="1341.0" y="31.92" width="5" height="1" fill="#2f8a73"/>
<line x1="1349.5" y1="30.1" x2="1349.5" y2="37.8" stroke="#2f8a73" stroke-width="1"/>
<rect x="1347.0" y="32.9" width="5" height="1" fill="#2f8a73"/>
<line x1="1356.5" y1="28.7" x2="1356.5" y2="40.6" stroke="#d25b4b" stroke-width="1"/>
<rect x="1354.0" y="32.9" width="5" height="1.12" fill="#d25b4b"/>
<line x1="1363.5" y1="29.4" x2="1363.5" y2="43.68" stroke="#d25b4b" stroke-width="1"/>
<rect x="1361.0" y="34.3" width="5" height="1.12" fill="#d25b4b"/>
<line x1="1369.5" y1="31.5" x2="1369.5" y2="52.5" stroke="#d25b4b" stroke-width="1"/>
<rect x="1367.0" y="35.7" width="5" height="7" fill="#d25b4b"/>
<line x1="1376.5" y1="39.9" x2="1376.5" y2="58.52" stroke="#2f8a73" stroke-width="1"/>
<rect x="1374.0" y="43.12" width="5" height="1" fill="#2f8a73"/>
<line x1="1382.5" y1="37.1" x2="1382.5" y2="63.7" stroke="#d25b4b" stroke-width="1"/>
<rect x="1380.0" y="43.12" width="5" height="9.8" fill="#d25b4b"/>
<line x1="1389.5" y1="42" x2="1389.5" y2="60.48" stroke="#d25b4b" stroke-width="1"/>
<rect x="1387.0" y="53.2" width="5" height="6.3" fill="#d25b4b"/>
<line x1="1396.5" y1="51.1" x2="1396.5" y2="61.6" stroke="#d25b4b" stroke-width="1"/>
<rect x="1394.0" y="59.5" width="5" height="1.4" fill="#d25b4b"/>
<line x1="1402.5" y1="41.3" x2="1402.5" y2="64.68" stroke="#2f8a73" stroke-width="1"/>
<rect x="1400.0" y="54.88" width="5" height="6.02" fill="#2f8a73"/>
<line x1="1409.5" y1="37.8" x2="1409.5" y2="56.7" stroke="#2f8a73" stroke-width="1"/>
<rect x="1407.0" y="40.18" width="5" height="13.02" fill="#2f8a73"/>
<line x1="1415.5" y1="36.12" x2="1415.5" y2="46.48" stroke="#d25b4b" stroke-width="1"/>
<rect x="1413.0" y="39.9" width="5" height="1.12" fill="#d25b4b"/>
<line x1="1422.5" y1="37.1" x2="1422.5" y2="45.78" stroke="#2f8a73" stroke-width="1"/>
<rect x="1420.0" y="40.6" width="5" height="1" fill="#2f8a73"/>
<polyline points="0,209.8 101,209.6 200,210.6 255.7,210.4 296,211 336.6,213.5 377,216.5 395,217.5 430.4,218.8 470.9,222.4 511.3,226.4 551.8,229.5 590,230.4 686.1,230.5 785,230.1 840.7,229.6 900,228.4 960,226.7 1025.3,223.3 1090.6,220 1156,213.5 1221.3,206 1286.6,197.2 1351.9,186.7 1422.1,177.6" fill="none" stroke="#ff2cff" stroke-width="1.3" stroke-linejoin="round" />
<polyline points="0,224.3 40.4,225.7 80.9,227.4 121.3,229.8 161.8,233 200,236 215.2,237.7 235.4,239.8 255.7,240.8 275.9,241.4 296.1,242.4 316.3,243.4 336.6,243.8 356.8,244.2 377,244.4 395,244.8 430.4,243.4 470.9,243 511.3,242.6 531.6,242 551.8,240.6 572,238.6 590,237.2 605.2,236.4 625.4,235.8 665.9,235.8 706.3,235.2 726.6,233.8 746.8,232.4 767,230.8 785,229.2 830.6,222.3 860.9,219.3 901.3,215.3 941.8,212.2 960,211.2 1025.3,203.7 1090.6,197.2 1156,185.7 1221.3,174.3 1253.9,169.4 1286.6,161.9 1319.2,153.1 1351.9,143.3 1384.6,133.5 1422.1,124.3" fill="none" stroke="#1f50a8" stroke-width="1.2" stroke-linejoin="round" />
<polyline points="0,234.3 20.9,237.1 41.8,239.4 62.7,241.8 83.6,244.4 104.5,247.5 125.4,250.9 146.3,254.3 170.9,257.3 191.8,259.7 207.5,260.5 217.9,260.1 233.6,258.4 254.5,255.2 265,253.7 280.6,252.4 296.3,252.4 313.1,253.2 326.1,252.3 339.2,250.9 352.3,250 365.3,249.4 378.4,248.6 391.4,247 404.5,244.2 417.6,240.8 430.6,238.3 443.7,236.1 456.8,234.2 469.8,232.2 482.9,230.2 495,228.2 511.3,225.8 531.6,223.8 551.8,221.8 572,220.8 590,220.4 605.2,219 625.4,218.2 645.7,218.2 665.9,220.3 686.1,220.7 706.3,221.7 726.6,223.1 746.8,225.1 767,225.1 785,223.5 800.2,220.9 820.4,219.3 840.7,217.3 860.9,214.3 881.1,211.2 901.3,208.8 921.6,206.8 941.8,204.8 962,202.5 980,199.1 1000,193.2 1030,184.3 1050,178.6 1070,172.9 1090,167.6 1123,159.6 1160,150.6 1188.6,143.6 1220,136 1237.6,132.2 1260,127.4 1286.6,120.9 1319.2,112.6 1335,108 1351.9,101.5 1374.8,92.5 1400,86.3 1422.1,81.6" fill="none" stroke="#ff2222" stroke-width="1.1" stroke-linejoin="round" />
<line x1="691.6" y1="212.9" x2="1470" y2="-4.3" stroke="#1e90ff" stroke-width="2.1"/>
<line x1="658.8" y1="276" x2="1470" y2="75.2" stroke="#1e90ff" stroke-width="2.1"/>
<line x1="1" y1="29" x2="1460.0" y2="29" stroke="#ff0000" stroke-width="2.2" />
<line x1="1" y1="54" x2="1460.0" y2="54" stroke="#ff0000" stroke-width="2.2" />
<line x1="1" y1="100" x2="1460.0" y2="100" stroke="#ff0000" stroke-width="2.2" />
<line x1="1" y1="133" x2="1460.0" y2="133" stroke="#ff0000" stroke-width="2.2" />
<line x1="1" y1="155" x2="1460.0" y2="155" stroke="#ff0000" stroke-width="2.2" />
<line x1="1" y1="179" x2="1460.0" y2="179" stroke="#ff0000" stroke-width="2.2" />
<line x1="1" y1="256" x2="1460.0" y2="256" stroke="#ff0000" stroke-width="2.2" />
<line x1="1" y1="302" x2="1460.0" y2="302" stroke="#ff0000" stroke-width="2.2" />
<line x1="1" y1="96.5" x2="1460.0" y2="96.5" stroke="#8a8a8a" stroke-width="1" />
<line x1="1" y1="41.5" x2="1460.0" y2="41.5" stroke="#2e4a73" stroke-width="1" />
</g>
<g clip-path="url(#cr)">
<polyline points="0,414.65 6.58,416.74 13.17,409.53 19.75,411.05 26.34,409.15 32.92,407.25 39.51,406.11 46.09,404.21 52.68,409.15 59.27,413.32 65.85,418.64 72.44,416.55 79.02,414.27 85.61,417.12 92.19,417.69 98.78,414.65 105.36,412.38 111.94,413.32 118.53,419.59 125.11,425.66 131.7,429.08 138.28,421.86 144.87,420.35 151.46,414.65 158.04,409.15 164.62,411.81 171.21,418.64 177.79,409.53 184.38,409.53 190.97,413.7 197.55,406.11 204.13,407.25 210.72,404.78 217.31,399.66 223.89,399.66 230.47,399.09 237.06,391.5 243.65,389.03 250.23,387.7 256.81,385.43 263.4,389.6 269.99,393.4 276.57,396.62 283.15,397.76 289.74,395.86 296.32,394.35 302.91,403.83 309.5,400.99 316.08,406.11 322.67,403.46 329.25,403.83 335.83,401.94 342.42,396.62 349,403.46 355.59,407.63 362.18,407.25 368.76,401.56 375.34,404.21 381.93,400.42 388.51,403.27 395.1,399.66 401.69,387.7 408.27,391.12 414.86,391.88 421.44,394.35 428.02,394.72 434.61,402.89 441.19,411.05 447.78,416.17 454.37,415.6 460.95,416.17 467.54,421.49 474.12,422.43 480.7,414.27 487.29,410.1 493.88,408.58 500.46,407.63 507.05,416.17 513.63,412.94 520.22,407.25 526.8,409.53 533.38,408.01 539.97,408.96 546.55,407.63 553.14,396.24 559.73,404.4 566.31,398.71 572.89,398.58 579.48,398.71 586.06,396.24 592.65,400.04 599.24,395.29 605.82,400.99 612.4,399.66 618.99,402.51 625.58,406.11 632.16,408.01 638.75,408.58 645.33,422.24 651.91,421.86 658.5,430.41 665.09,425.66 671.67,420.35 678.25,416.17 684.84,405.73 691.42,410.1 698.01,411.43 704.6,413.32 711.18,410.1 717.76,411.05 724.35,407.06 730.93,407.25 737.52,404.21 744.11,405.73 750.69,396.24 757.27,394.35 763.86,400.99 770.45,395.86 777.03,395.29 783.62,393.97 790.2,400.42 796.78,400.04 803.37,400.61 809.96,407.63 816.54,410.1 823.12,411.05 829.71,404.78 836.29,401.37 842.88,397.76 849.47,389.03 856.05,388.27 862.63,387.13 869.22,395.29 875.8,395.86 882.39,395.29 888.98,389.03 895.56,392.07 902.14,391.12 908.73,395.67 915.31,395.29 921.9,400.99 928.49,395.29 935.07,398.71 941.65,404.21 948.24,409.91 954.83,401.37 961.41,400.42 968,396.24 974.58,391.5 981.16,390.17 987.75,393.78 994.34,391.12 1000.92,393.4 1007.5,394.91 1014.09,399.09 1020.67,397.76 1027.26,394.72 1033.85,402.51 1040.43,401.37 1047.02,403.46 1053.6,390.55 1060.18,398.14 1066.77,395.67 1073.36,389.6 1079.94,390.55 1086.53,391.5 1093.11,394.72 1099.69,397.76 1106.28,397.19 1112.87,399.66 1119.45,396.62 1126.04,396.81 1132.62,398.14 1139.2,396.05 1145.79,391.5 1152.38,390.55 1158.96,388.65 1165.55,385.8 1172.13,393.97 1178.71,391.5 1185.3,389.22 1191.88,388.27 1198.47,390.55 1205.06,396.81 1211.64,391.88 1218.22,395.86 1224.81,408.2 1231.39,407.25 1237.98,407.63 1244.57,412.38 1251.15,400.99 1257.73,387.13 1264.32,388.27 1270.9,387.7 1277.49,384.48 1284.08,389.6 1290.66,392.45 1297.24,389.22 1303.83,386.18 1310.41,384.29 1317,382.39 1323.59,380.68 1330.17,378.59 1336.75,382.39 1343.34,382.39 1349.92,382.01 1356.51,383.53 1363.1,384.86 1369.68,392.45 1376.27,392.07 1382.85,401.56 1389.43,405.35 1396.02,406.68 1402.61,401.56 1409.19,394.35 1415.78,395.29 1422.36,395.67" fill="none" stroke="#2244ff" stroke-width="1.1" stroke-linejoin="round" />
<rect x="0" y="340" width="1422.6" height="46.5" fill="rgba(0,255,0,0.5)"/>
<rect x="0" y="429.5" width="1422.6" height="40" fill="rgba(255,0,0,0.5)"/>
<line x1="0" y1="386.5" x2="1422.6" y2="386.5" stroke="#000" stroke-width="1.2" stroke-dasharray="6.25 0.33" opacity="0.85"/>
<line x1="0" y1="429.5" x2="1422.6" y2="429.5" stroke="#000" stroke-width="1.2" stroke-dasharray="6.25 0.33" opacity="0.85"/>
<line x1="0.6" y1="354" x2="0.6" y2="386.5" stroke="rgba(0,0,0,0.75)" stroke-width="1.2"/>
<line x1="0.6" y1="429.5" x2="0.6" y2="462" stroke="rgba(0,0,0,0.75)" stroke-width="1.2"/>
<line x1="1422.6" y1="354" x2="1422.6" y2="386.5" stroke="rgba(0,0,0,0.75)" stroke-width="1.2"/>
<line x1="1422.6" y1="429.5" x2="1422.6" y2="462" stroke="rgba(0,0,0,0.75)" stroke-width="1.2"/>
</g>
<g clip-path="url(#cd)">
<polyline points="0,513.87 6.58,517.09 13.17,517.66 19.75,518.04 26.34,518.04 32.92,517.09 39.51,516.15 46.09,514.63 52.68,514.63 59.27,516.52 65.85,519.93 72.44,522.21 79.02,523.34 85.61,524.67 92.19,526.19 98.78,526.19 105.36,526 111.94,525.62 118.53,527.51 125.11,531.68 131.7,535.66 138.28,537.36 144.87,537.93 151.46,536.6 158.04,533.57 164.62,531.3 171.21,533.19 177.79,530.35 184.38,528.46 190.97,528.84 197.55,525.62 204.13,523.34 210.72,520.31 217.31,515.77 223.89,511.41 230.47,507.62 237.06,501.94 243.65,496.26 250.23,491.14 256.81,486.78 263.4,484.89 269.99,484.51 276.57,485.46 283.15,486.78 289.74,487.35 296.32,487.73 302.91,490.57 309.5,493.04 316.08,495.31 322.67,497.2 329.25,498.53 335.83,499.48 342.42,498.15 349,499.48 355.59,501.56 362.18,503.45 368.76,503.45 375.34,503.83 381.93,503.45 388.51,503.45 395.1,502.51 401.69,497.2 408.27,493.98 414.86,491.9 421.44,491.14 428.02,490.95 434.61,493.41 441.19,497.2 447.78,502.51 454.37,506.67 460.95,510.46 467.54,515.2 474.12,519.37 480.7,520.88 487.29,520.5 493.88,520.31 500.46,518.99 507.05,520.5 513.63,521.45 520.22,520.31 526.8,519.56 533.38,518.99 539.97,518.04 546.55,516.71 553.14,513.3 559.73,511.03 566.31,508.57 572.89,505.73 579.48,503.83 586.06,502.32 592.65,501.94 599.24,500.42 605.82,500.42 612.4,500.42 618.99,500.61 625.58,501.94 632.16,503.83 638.75,506.3 645.33,511.98 651.91,518.04 658.5,524.67 665.09,528.46 671.67,530.35 678.25,530.35 684.84,527.51 691.42,526 698.01,525.24 704.6,525.05 711.18,524.1 717.76,523.15 724.35,521.26 730.93,519.56 737.52,518.04 744.11,516.71 750.69,512.36 757.27,508.57 763.86,506.3 770.45,502.89 777.03,500.61 783.62,498.72 790.2,498.72 796.78,498.72 803.37,499.67 809.96,501.94 816.54,504.4 823.12,506.3 829.71,506.3 836.29,505.73 842.88,503.83 849.47,499.48 856.05,495.78 862.63,491.9 869.22,491.52 875.8,491.52 882.39,491.14 888.98,489.06 895.56,488.11 902.14,487.35 908.73,488.68 915.31,489.63 921.9,491.14 928.49,491.9 935.07,493.04 941.65,495.88 948.24,498.72 954.83,499.1 961.41,499.48 968,497.77 974.58,495.31 981.16,493.04 987.75,491.9 994.34,490.57 1000.92,490.19 1007.5,490.57 1014.09,491.9 1020.67,493.04 1027.26,493.41 1033.85,494.93 1040.43,496.82 1047.02,498.15 1053.6,495.31 1060.18,494.93 1066.77,493.98 1073.36,491.14 1079.94,489.25 1086.53,488.68 1093.11,489.06 1099.69,490.19 1106.28,491.52 1112.87,492.85 1119.45,493.41 1126.04,494.36 1132.62,494.93 1139.2,495.69 1145.79,494.93 1152.38,494.36 1158.96,493.41 1165.55,492.47 1172.13,492.85 1178.71,492.85 1185.3,491.9 1191.88,491.52 1198.47,491.9 1205.06,493.41 1211.64,493.41 1218.22,493.98 1224.81,496.82 1231.39,499.48 1237.98,501.94 1244.57,504.78 1251.15,504.78 1257.73,499.67 1264.32,495.31 1270.9,491.9 1277.49,488.68 1284.08,487.16 1290.66,486.78 1297.24,485.46 1303.83,483.56 1310.41,481.67 1317,479.59 1323.59,477.31 1330.17,474.47 1336.75,473.15 1343.34,472.58 1349.92,472.58 1356.51,473.15 1363.1,474.85 1369.68,477.31 1376.27,479.78 1382.85,483.56 1389.43,487.35 1396.02,491.14 1402.61,493.98 1409.19,493.79 1415.78,493.98 1422.36,494.74" fill="none" stroke="#2244ff" stroke-width="1.1" stroke-linejoin="round" />
<polyline points="0,513.3 6.58,514.63 13.17,515.58 19.75,516.15 26.34,516.52 32.92,516.71 39.51,516.52 46.09,515.77 52.68,515.2 59.27,515.2 65.85,516.52 72.44,518.04 79.02,518.99 85.61,520.31 92.19,521.45 98.78,522.4 105.36,523.34 111.94,524.1 118.53,524.67 125.11,526 131.7,528.08 138.28,529.78 144.87,531.3 151.46,532.25 158.04,532.63 164.62,532.25 171.21,532.25 177.79,532.25 184.38,531.3 190.97,530.92 197.55,529.97 204.13,528.84 210.72,527.13 217.31,525.05 223.89,522.4 230.47,519.93 237.06,516.52 243.65,512.74 250.23,508.57 256.81,504.78 263.4,500.99 269.99,497.58 276.57,494.93 283.15,493.6 289.74,492.47 296.32,491.52 302.91,491.14 309.5,491.52 316.08,492.47 322.67,493.41 329.25,494.36 335.83,495.31 342.42,495.69 349,496.63 355.59,497.58 362.18,498.72 368.76,499.67 375.34,500.42 381.93,500.99 388.51,501.56 395.1,501.56 401.69,500.61 408.27,499.48 414.86,497.77 421.44,496.26 428.02,495.31 434.61,494.93 441.19,495.31 447.78,496.63 454.37,498.72 460.95,501.37 467.54,504.4 474.12,507.62 480.7,510.46 487.29,512.36 493.88,513.87 500.46,514.82 507.05,515.77 513.63,516.71 520.22,517.47 526.8,518.04 533.38,518.23 539.97,518.23 546.55,517.85 553.14,517.09 559.73,516.15 566.31,514.82 572.89,511.79 579.48,510.46 586.06,509.14 592.65,508 599.24,506.3 605.82,505.16 612.4,504.21 618.99,503.45 625.58,503.26 632.16,503.45 638.75,504.4 645.33,506.3 651.91,509.14 658.5,512.74 665.09,515.77 671.67,518.61 678.25,520.5 684.84,521.83 691.42,522.78 698.01,523.34 704.6,523.72 711.18,523.72 717.76,523.34 724.35,522.78 730.93,521.83 737.52,521.26 744.11,519.93 750.69,518.61 757.27,516.71 763.86,514.25 770.45,511.98 777.03,509.89 783.62,507.62 790.2,506.11 796.78,504.4 803.37,503.45 809.96,503.26 816.54,503.45 823.12,504.21 829.71,504.78 836.29,504.78 842.88,504.4 849.47,503.26 856.05,502.22 862.63,500.04 869.22,498.15 875.8,496.82 882.39,495.69 888.98,494.36 895.56,493.04 902.14,492.09 908.73,491.52 915.31,491.14 921.9,491.14 928.49,491.14 935.07,491.52 941.65,492.47 948.24,493.79 954.83,494.93 961.41,495.69 968,496.26 974.58,495.69 981.16,495.31 987.75,494.74 994.34,493.79 1000.92,493.04 1007.5,492.47 1014.09,492.47 1020.67,492.47 1027.26,492.85 1033.85,493.41 1040.43,493.98 1047.02,494.93 1053.6,494.93 1060.18,494.74 1066.77,494.74 1073.36,493.79 1079.94,492.85 1086.53,492.09 1093.11,491.52 1099.69,491.14 1106.28,491.14 1112.87,491.52 1119.45,491.9 1126.04,492.47 1132.62,493.04 1139.2,493.79 1145.79,493.98 1152.38,493.98 1158.96,493.79 1165.55,493.41 1172.13,493.04 1178.71,493.04 1185.3,492.85 1191.88,492.47 1198.47,492.47 1205.06,492.47 1211.64,492.47 1218.22,493.04 1224.81,493.98 1231.39,495.31 1237.98,496.63 1244.57,498.15 1251.15,499.48 1257.73,499.67 1264.32,498.72 1270.9,497.2 1277.49,495.69 1284.08,493.98 1290.66,492.47 1297.24,491.14 1303.83,489.63 1310.41,488.11 1317,486.41 1323.59,484.51 1330.17,482.62 1336.75,480.72 1343.34,479.21 1349.92,477.88 1356.51,476.93 1363.1,476.37 1369.68,476.74 1376.27,477.69 1382.85,479.21 1389.43,481.48 1396.02,483.94 1402.61,485.84 1409.19,487.35 1415.78,488.68 1422.36,489.63" fill="none" stroke="#ff7a1a" stroke-width="1.1" stroke-linejoin="round" />
<rect x="-2.0" y="514.0" width="5" height="1.77" fill="#ff0000"/>
<rect x="4.0" y="514.0" width="5" height="2.15" fill="#ff0000"/>
<rect x="11.0" y="514.0" width="5" height="1.77" fill="#ff0000"/>
<rect x="17.0" y="514.0" width="5" height="1.39" fill="#ff0000"/>
<rect x="24.0" y="514.0" width="5" height="0.82" fill="#ff0000"/>
<rect x="30.0" y="514.0" width="5" height="0.25" fill="#ff0000"/>
<rect x="37.0" y="513.49" width="5" height="0.51" fill="#00ff00"/>
<rect x="44.0" y="511.98" width="5" height="2.02" fill="#00ff00"/>
<rect x="50.0" y="513.12" width="5" height="0.88" fill="#00ff00"/>
<rect x="57.0" y="514.0" width="5" height="0.82" fill="#ff0000"/>
<rect x="63.0" y="514.0" width="5" height="2.71" fill="#ff0000"/>
<rect x="70.0" y="514.0" width="5" height="3.66" fill="#ff0000"/>
<rect x="77.0" y="514.0" width="5" height="3.66" fill="#ff0000"/>
<rect x="83.0" y="514.0" width="5" height="4.42" fill="#ff0000"/>
<rect x="90.0" y="514.0" width="5" height="4.61" fill="#ff0000"/>
<rect x="96.0" y="514.0" width="5" height="3.66" fill="#ff0000"/>
<rect x="103.0" y="514.0" width="5" height="2.15" fill="#ff0000"/>
<rect x="109.0" y="514.0" width="5" height="1.2" fill="#ff0000"/>
<rect x="116.0" y="514.0" width="5" height="2.52" fill="#ff0000"/>
<rect x="123.0" y="514.0" width="5" height="5.37" fill="#ff0000"/>
<rect x="129.0" y="514.0" width="5" height="7.83" fill="#ff0000"/>
<rect x="136.0" y="514.0" width="5" height="7.45" fill="#ff0000"/>
<rect x="142.0" y="514.0" width="5" height="6.31" fill="#ff0000"/>
<rect x="149.0" y="514.0" width="5" height="3.66" fill="#ff0000"/>
<rect x="156.0" y="514.0" width="5" height="0.82" fill="#ff0000"/>
<rect x="162.0" y="513.3" width="5" height="0.7" fill="#00ff00"/>
<rect x="169.0" y="514.0" width="5" height="0.25" fill="#ff0000"/>
<rect x="175.0" y="512.36" width="5" height="1.64" fill="#00ff00"/>
<rect x="182.0" y="511.22" width="5" height="2.78" fill="#00ff00"/>
<rect x="188.0" y="511.79" width="5" height="2.21" fill="#00ff00"/>
<rect x="195.0" y="509.89" width="5" height="4.11" fill="#00ff00"/>
<rect x="202.0" y="509.14" width="5" height="4.86" fill="#00ff00"/>
<rect x="208.0" y="507.62" width="5" height="6.38" fill="#00ff00"/>
<rect x="215.0" y="505.35" width="5" height="8.65" fill="#00ff00"/>
<rect x="221.0" y="504.4" width="5" height="9.6" fill="#00ff00"/>
<rect x="228.0" y="503.83" width="5" height="10.17" fill="#00ff00"/>
<rect x="235.0" y="501.56" width="5" height="12.44" fill="#00ff00"/>
<rect x="241.0" y="499.67" width="5" height="14.33" fill="#00ff00"/>
<rect x="248.0" y="498.15" width="5" height="15.85" fill="#00ff00"/>
<rect x="254.0" y="497.58" width="5" height="16.42" fill="#00ff00"/>
<rect x="261.0" y="498.72" width="5" height="15.28" fill="#00ff00"/>
<rect x="267.0" y="500.99" width="5" height="13.01" fill="#00ff00"/>
<rect x="274.0" y="503.83" width="5" height="10.17" fill="#00ff00"/>
<rect x="281.0" y="507.05" width="5" height="6.95" fill="#00ff00"/>
<rect x="287.0" y="508.95" width="5" height="5.05" fill="#00ff00"/>
<rect x="294.0" y="510.08" width="5" height="3.92" fill="#00ff00"/>
<rect x="300.0" y="513.12" width="5" height="0.88" fill="#00ff00"/>
<rect x="307.0" y="514.0" width="5" height="0.63" fill="#ff0000"/>
<rect x="314.0" y="514.0" width="5" height="2.52" fill="#ff0000"/>
<rect x="320.0" y="514.0" width="5" height="3.28" fill="#ff0000"/>
<rect x="327.0" y="514.0" width="5" height="3.66" fill="#ff0000"/>
<rect x="333.0" y="514.0" width="5" height="3.66" fill="#ff0000"/>
<rect x="340.0" y="514.0" width="5" height="2.15" fill="#ff0000"/>
<rect x="347.0" y="514.0" width="5" height="2.71" fill="#ff0000"/>
<rect x="353.0" y="514.0" width="5" height="3.66" fill="#ff0000"/>
<rect x="360.0" y="514.0" width="5" height="4.61" fill="#ff0000"/>
<rect x="366.0" y="514.0" width="5" height="3.66" fill="#ff0000"/>
<rect x="373.0" y="514.0" width="5" height="3.09" fill="#ff0000"/>
<rect x="379.0" y="514.0" width="5" height="1.77" fill="#ff0000"/>
<rect x="386.0" y="514.0" width="5" height="1.39" fill="#ff0000"/>
<rect x="393.0" y="514.0" width="5" height="0.82" fill="#ff0000"/>
<rect x="399.0" y="510.46" width="5" height="3.54" fill="#00ff00"/>
<rect x="406.0" y="508.95" width="5" height="5.05" fill="#00ff00"/>
<rect x="412.0" y="508.19" width="5" height="5.81" fill="#00ff00"/>
<rect x="419.0" y="508.57" width="5" height="5.43" fill="#00ff00"/>
<rect x="426.0" y="509.52" width="5" height="4.48" fill="#00ff00"/>
<rect x="432.0" y="511.98" width="5" height="2.02" fill="#00ff00"/>
<rect x="439.0" y="514.0" width="5" height="1.58" fill="#ff0000"/>
<rect x="445.0" y="514.0" width="5" height="5.93" fill="#ff0000"/>
<rect x="452.0" y="514.0" width="5" height="7.83" fill="#ff0000"/>
<rect x="458.0" y="514.0" width="5" height="9.34" fill="#ff0000"/>
<rect x="465.0" y="514.0" width="5" height="11.05" fill="#ff0000"/>
<rect x="472.0" y="514.0" width="5" height="12" fill="#ff0000"/>
<rect x="478.0" y="514.0" width="5" height="10.29" fill="#ff0000"/>
<rect x="485.0" y="514.0" width="5" height="7.83" fill="#ff0000"/>
<rect x="491.0" y="514.0" width="5" height="5.93" fill="#ff0000"/>
<rect x="498.0" y="514.0" width="5" height="4.04" fill="#ff0000"/>
<rect x="505.0" y="514.0" width="5" height="4.42" fill="#ff0000"/>
<rect x="511.0" y="514.0" width="5" height="3.66" fill="#ff0000"/>
<rect x="518.0" y="514.0" width="5" height="1.77" fill="#ff0000"/>
<rect x="524.0" y="514.0" width="5" height="0.82" fill="#ff0000"/>
<rect x="531.0" y="514.0" width="5" height="0.44" fill="#ff0000"/>
<rect x="544.0" y="513.49" width="5" height="0.51" fill="#00ff00"/>
<rect x="551.0" y="510.46" width="5" height="3.54" fill="#00ff00"/>
<rect x="557.0" y="510.46" width="5" height="3.54" fill="#00ff00"/>
<rect x="564.0" y="508.95" width="5" height="5.05" fill="#00ff00"/>
<rect x="570.0" y="508.19" width="5" height="5.81" fill="#00ff00"/>
<rect x="577.0" y="507.62" width="5" height="6.38" fill="#00ff00"/>
<rect x="584.0" y="507.62" width="5" height="6.38" fill="#00ff00"/>
<rect x="590.0" y="508.19" width="5" height="5.81" fill="#00ff00"/>
<rect x="597.0" y="507.81" width="5" height="6.19" fill="#00ff00"/>
<rect x="603.0" y="509.14" width="5" height="4.86" fill="#00ff00"/>
<rect x="610.0" y="510.08" width="5" height="3.92" fill="#00ff00"/>
<rect x="616.0" y="511.41" width="5" height="2.59" fill="#00ff00"/>
<rect x="623.0" y="513.12" width="5" height="0.88" fill="#00ff00"/>
<rect x="630.0" y="514.0" width="5" height="0.44" fill="#ff0000"/>
<rect x="636.0" y="514.0" width="5" height="1.2" fill="#ff0000"/>
<rect x="643.0" y="514.0" width="5" height="5.56" fill="#ff0000"/>
<rect x="649.0" y="514.0" width="5" height="7.83" fill="#ff0000"/>
<rect x="656.0" y="514.0" width="5" height="12.19" fill="#ff0000"/>
<rect x="663.0" y="514.0" width="5" height="13.51" fill="#ff0000"/>
<rect x="669.0" y="514.0" width="5" height="12.19" fill="#ff0000"/>
<rect x="676.0" y="514.0" width="5" height="9.72" fill="#ff0000"/>
<rect x="682.0" y="514.0" width="5" height="4.99" fill="#ff0000"/>
<rect x="689.0" y="514.0" width="5" height="3.09" fill="#ff0000"/>
<rect x="696.0" y="514.0" width="5" height="1.77" fill="#ff0000"/>
<rect x="702.0" y="514.0" width="5" height="1.39" fill="#ff0000"/>
<rect x="709.0" y="514.0" width="5" height="0.63" fill="#ff0000"/>
<rect x="722.0" y="512.93" width="5" height="1.07" fill="#00ff00"/>
<rect x="728.0" y="511.98" width="5" height="2.02" fill="#00ff00"/>
<rect x="735.0" y="510.84" width="5" height="3.16" fill="#00ff00"/>
<rect x="742.0" y="510.46" width="5" height="3.54" fill="#00ff00"/>
<rect x="748.0" y="507.62" width="5" height="6.38" fill="#00ff00"/>
<rect x="755.0" y="505.35" width="5" height="8.65" fill="#00ff00"/>
<rect x="761.0" y="506.11" width="5" height="7.89" fill="#00ff00"/>
<rect x="768.0" y="505.16" width="5" height="8.84" fill="#00ff00"/>
<rect x="775.0" y="504.78" width="5" height="9.22" fill="#00ff00"/>
<rect x="781.0" y="504.78" width="5" height="9.22" fill="#00ff00"/>
<rect x="788.0" y="506.67" width="5" height="7.33" fill="#00ff00"/>
<rect x="794.0" y="508.19" width="5" height="5.81" fill="#00ff00"/>
<rect x="801.0" y="509.89" width="5" height="4.11" fill="#00ff00"/>
<rect x="807.0" y="512.36" width="5" height="1.64" fill="#00ff00"/>
<rect x="814.0" y="514.0" width="5" height="0.63" fill="#ff0000"/>
<rect x="821.0" y="514.0" width="5" height="1.77" fill="#ff0000"/>
<rect x="827.0" y="514.0" width="5" height="1.39" fill="#ff0000"/>
<rect x="834.0" y="514.0" width="5" height="0.82" fill="#ff0000"/>
<rect x="840.0" y="513.3" width="5" height="0.7" fill="#00ff00"/>
<rect x="847.0" y="510.08" width="5" height="3.92" fill="#00ff00"/>
<rect x="854.0" y="507.62" width="5" height="6.38" fill="#00ff00"/>
<rect x="860.0" y="506.11" width="5" height="7.89" fill="#00ff00"/>
<rect x="867.0" y="507.05" width="5" height="6.95" fill="#00ff00"/>
<rect x="873.0" y="508.57" width="5" height="5.43" fill="#00ff00"/>
<rect x="880.0" y="509.89" width="5" height="4.11" fill="#00ff00"/>
<rect x="886.0" y="508.95" width="5" height="5.05" fill="#00ff00"/>
<rect x="893.0" y="509.14" width="5" height="4.86" fill="#00ff00"/>
<rect x="900.0" y="509.52" width="5" height="4.48" fill="#00ff00"/>
<rect x="906.0" y="511.03" width="5" height="2.97" fill="#00ff00"/>
<rect x="913.0" y="512.36" width="5" height="1.64" fill="#00ff00"/>
<rect x="919.0" y="514.0" width="5" height="0.25" fill="#ff0000"/>
<rect x="926.0" y="514.0" width="5" height="0.25" fill="#ff0000"/>
<rect x="933.0" y="514.0" width="5" height="0.63" fill="#ff0000"/>
<rect x="939.0" y="514.0" width="5" height="2.52" fill="#ff0000"/>
<rect x="946.0" y="514.0" width="5" height="4.99" fill="#ff0000"/>
<rect x="952.0" y="514.0" width="5" height="4.04" fill="#ff0000"/>
<rect x="959.0" y="514.0" width="5" height="3.47" fill="#ff0000"/>
<rect x="965.0" y="514.0" width="5" height="1.77" fill="#ff0000"/>
<rect x="972.0" y="513.49" width="5" height="0.51" fill="#00ff00"/>
<rect x="979.0" y="511.79" width="5" height="2.21" fill="#00ff00"/>
<rect x="985.0" y="511.41" width="5" height="2.59" fill="#00ff00"/>
<rect x="992.0" y="510.84" width="5" height="3.16" fill="#00ff00"/>
<rect x="998.0" y="511.03" width="5" height="2.97" fill="#00ff00"/>
<rect x="1005.0" y="511.98" width="5" height="2.02" fill="#00ff00"/>
<rect x="1012.0" y="513.3" width="5" height="0.7" fill="#00ff00"/>
<rect x="1018.0" y="514.0" width="5" height="0.25" fill="#ff0000"/>
<rect x="1025.0" y="514.0" width="5" height="0.44" fill="#ff0000"/>
<rect x="1031.0" y="514.0" width="5" height="1.77" fill="#ff0000"/>
<rect x="1038.0" y="514.0" width="5" height="2.52" fill="#ff0000"/>
<rect x="1045.0" y="514.0" width="5" height="3.28" fill="#ff0000"/>
<rect x="1051.0" y="514.0" width="5" height="0.63" fill="#ff0000"/>
<rect x="1058.0" y="514.0" width="5" height="0.25" fill="#ff0000"/>
<rect x="1064.0" y="513.49" width="5" height="0.51" fill="#00ff00"/>
<rect x="1071.0" y="511.41" width="5" height="2.59" fill="#00ff00"/>
<rect x="1077.0" y="510.46" width="5" height="3.54" fill="#00ff00"/>
<rect x="1084.0" y="510.46" width="5" height="3.54" fill="#00ff00"/>
<rect x="1091.0" y="511.41" width="5" height="2.59" fill="#00ff00"/>
<rect x="1097.0" y="512.74" width="5" height="1.26" fill="#00ff00"/>
<rect x="1104.0" y="513.68" width="5" height="0.32" fill="#00ff00"/>
<rect x="1110.0" y="514.0" width="5" height="0.63" fill="#ff0000"/>
<rect x="1117.0" y="514.0" width="5" height="1.01" fill="#ff0000"/>
<rect x="1124.0" y="514.0" width="5" height="1.39" fill="#ff0000"/>
<rect x="1130.0" y="514.0" width="5" height="1.58" fill="#ff0000"/>
<rect x="1137.0" y="514.0" width="5" height="1.77" fill="#ff0000"/>
<rect x="1143.0" y="514.0" width="5" height="0.82" fill="#ff0000"/>
<rect x="1150.0" y="514.0" width="5" height="0.44" fill="#ff0000"/>
<rect x="1156.0" y="513.68" width="5" height="0.32" fill="#00ff00"/>
<rect x="1163.0" y="512.74" width="5" height="1.26" fill="#00ff00"/>
<rect x="1170.0" y="513.3" width="5" height="0.7" fill="#00ff00"/>
<rect x="1176.0" y="513.3" width="5" height="0.7" fill="#00ff00"/>
<rect x="1183.0" y="513.12" width="5" height="0.88" fill="#00ff00"/>
<rect x="1189.0" y="512.74" width="5" height="1.26" fill="#00ff00"/>
<rect x="1196.0" y="513.12" width="5" height="0.88" fill="#00ff00"/>
<rect x="1203.0" y="514.0" width="5" height="0.25" fill="#ff0000"/>
<rect x="1209.0" y="514.0" width="5" height="0.25" fill="#ff0000"/>
<rect x="1216.0" y="514.0" width="5" height="0.63" fill="#ff0000"/>
<rect x="1222.0" y="514.0" width="5" height="2.71" fill="#ff0000"/>
<rect x="1229.0" y="514.0" width="5" height="4.42" fill="#ff0000"/>
<rect x="1235.0" y="514.0" width="5" height="5.37" fill="#ff0000"/>
<rect x="1242.0" y="514.0" width="5" height="6.5" fill="#ff0000"/>
<rect x="1249.0" y="514.0" width="5" height="4.99" fill="#ff0000"/>
<rect x="1255.0" y="513.68" width="5" height="0.32" fill="#00ff00"/>
<rect x="1262.0" y="510.46" width="5" height="3.54" fill="#00ff00"/>
<rect x="1268.0" y="508.95" width="5" height="5.05" fill="#00ff00"/>
<rect x="1275.0" y="507.05" width="5" height="6.95" fill="#00ff00"/>
<rect x="1282.0" y="507.05" width="5" height="6.95" fill="#00ff00"/>
<rect x="1288.0" y="508.19" width="5" height="5.81" fill="#00ff00"/>
<rect x="1295.0" y="508.57" width="5" height="5.43" fill="#00ff00"/>
<rect x="1301.0" y="508" width="5" height="6" fill="#00ff00"/>
<rect x="1308.0" y="507.62" width="5" height="6.38" fill="#00ff00"/>
<rect x="1314.0" y="507.05" width="5" height="6.95" fill="#00ff00"/>
<rect x="1321.0" y="506.67" width="5" height="7.33" fill="#00ff00"/>
<rect x="1328.0" y="505.73" width="5" height="8.27" fill="#00ff00"/>
<rect x="1334.0" y="506.3" width="5" height="7.7" fill="#00ff00"/>
<rect x="1341.0" y="507.62" width="5" height="6.38" fill="#00ff00"/>
<rect x="1347.0" y="508.95" width="5" height="5.05" fill="#00ff00"/>
<rect x="1354.0" y="510.46" width="5" height="3.54" fill="#00ff00"/>
<rect x="1361.0" y="512.36" width="5" height="1.64" fill="#00ff00"/>
<rect x="1367.0" y="514.0" width="5" height="0.63" fill="#ff0000"/>
<rect x="1374.0" y="514.0" width="5" height="2.15" fill="#ff0000"/>
<rect x="1380.0" y="514.0" width="5" height="4.99" fill="#ff0000"/>
<rect x="1387.0" y="514.0" width="5" height="7.26" fill="#ff0000"/>
<rect x="1394.0" y="514.0" width="5" height="8.78" fill="#ff0000"/>
<rect x="1400.0" y="514.0" width="5" height="8.78" fill="#ff0000"/>
<rect x="1407.0" y="514.0" width="5" height="6.88" fill="#ff0000"/>
<rect x="1413.0" y="514.0" width="5" height="5.93" fill="#ff0000"/>
<rect x="1420.0" y="514.0" width="5" height="4.99" fill="#ff0000"/>
</g>
<g clip-path="url(#cf)">
<line x1="1" y1="616" x2="1460.0" y2="616" stroke="#e4e4e4" stroke-width="1" />
<line x1="1" y1="583.5" x2="1460.0" y2="583.5" stroke="#4a4a4a" stroke-width="0.9" />
<polyline points="0,574.26 6.58,585.62 13.17,594.52 19.75,597.93 26.34,595.47 32.92,592.25 39.51,588.46 46.09,585.62 52.68,583.73 59.27,584.3 65.85,590.36 72.44,596.99 79.02,601.15 85.61,600.4 92.19,598.5 98.78,597.93 105.36,597.37 111.94,596.04 118.53,595.09 125.11,597.93 131.7,604 138.28,608.35 144.87,607.41 151.46,599.83 158.04,589.41 164.62,579.37 171.21,574.82 177.79,574.26 184.38,576.15 190.97,575.2 197.55,572.93 204.13,569.52 210.72,564.78 217.31,561 223.89,557.78 230.47,557.21 237.06,557.59 243.65,557.21 250.23,555.88 256.81,553.8 263.4,552.47 269.99,552.85 276.57,555.69 283.15,559.76 289.74,562.89 296.32,564.78 302.91,566.68 309.5,569.9 316.08,575.77 322.67,581.45 329.25,587.52 335.83,590.36 342.42,590.36 349,587.52 355.59,586 362.18,589.98 368.76,593.2 375.34,592.25 381.93,584.3 388.51,578.04 395.1,571.98 401.69,568.19 408.27,562.51 414.86,559.67 421.44,559.48 428.02,561.37 434.61,565.35 441.19,571.98 447.78,583.35 454.37,595.66 460.95,605.13 467.54,609.3 474.12,609.68 480.7,607.97 487.29,604.56 493.88,599.45 500.46,594.52 507.05,592.63 513.63,593.58 520.22,595.47 526.8,594.15 533.38,589.03 539.97,580.51 546.55,571.41 553.14,564.78 559.73,561.56 566.31,560.62 572.89,561.94 579.48,560.43 586.06,559.67 592.65,560.62 599.24,563.46 605.82,565.73 612.4,566.68 618.99,568.95 625.58,571.41 632.16,575.58 638.75,580.51 645.33,587.89 651.91,596.04 658.5,604 665.09,607.41 671.67,608.35 678.25,603.62 684.84,597.37 691.42,590.74 698.01,585.05 704.6,583.73 711.18,582.4 717.76,582.21 724.35,579.37 730.93,576.15 737.52,570.85 744.11,565.73 750.69,560.43 757.27,556.83 763.86,555.69 770.45,556.26 777.03,557.21 783.62,556.26 790.2,556.26 796.78,557.21 803.37,561.37 809.96,566.3 816.54,573.69 823.12,582.4 829.71,588.84 836.29,589.41 842.88,582.78 849.47,573.31 856.05,562.7 862.63,556.64 869.22,554.74 875.8,557.78 882.39,562.51 888.98,564.78 895.56,563.84 902.14,560.43 908.73,559.1 915.31,559.48 921.9,563.27 928.49,565.35 935.07,567.63 941.65,571.41 948.24,579.94 954.83,589.98 961.41,595.09 968,589.41 974.58,579.94 981.16,570.09 987.75,562.89 994.34,558.72 1000.92,558.15 1007.5,558.53 1014.09,561 1020.67,563.84 1027.26,565.73 1033.85,566.68 1040.43,567.25 1047.02,570.47 1053.6,570.85 1060.18,570.85 1066.77,566.3 1073.36,564.22 1079.94,561.37 1086.53,561 1093.11,562.32 1099.69,565.35 1106.28,569.52 1112.87,572.74 1119.45,574.26 1126.04,574.63 1132.62,573.69 1139.2,572.74 1145.79,571.04 1152.38,569.14 1158.96,567.06 1165.55,564.41 1172.13,563.46 1178.71,562.51 1185.3,562.32 1191.88,559.67 1198.47,557.59 1205.06,557.21 1211.64,559.1 1218.22,561.56 1224.81,565.16 1231.39,572.36 1237.98,583.73 1244.57,595.47 1251.15,601.15 1257.73,595.09 1264.32,582.78 1270.9,567.63 1277.49,558.72 1284.08,557.21 1290.66,559.67 1297.24,561.94 1303.83,562.32 1310.41,559.67 1317,555.88 1323.59,553.42 1330.17,552.47 1336.75,552.85 1343.34,553.42 1349.92,554.74 1356.51,556.26 1363.1,558.53 1369.68,561.37 1376.27,564.41 1382.85,569.52 1389.43,577.1 1396.02,587.14 1402.61,596.61 1409.19,598.5 1415.78,592.25 1422.36,583.73" fill="none" stroke="#2244ff" stroke-width="1.1" stroke-linejoin="round" />
<polyline points="0,588.08 6.58,599.26 13.17,598.5 19.75,596.61 26.34,590.93 32.92,589.03 39.51,585.62 46.09,582.4 52.68,583.73 59.27,591.3 65.85,599.45 72.44,603.24 79.02,601.34 85.61,596.99 92.19,597.56 98.78,598.88 105.36,595.66 111.94,593.2 118.53,596.61 125.11,605.13 131.7,611.57 138.28,608.73 144.87,600.78 151.46,588.46 158.04,578.04 164.62,571.41 171.21,575.2 177.79,576.72 184.38,576.15 190.97,572.36 197.55,569.52 204.13,566.11 210.72,559.1 217.31,557.59 223.89,556.64 230.47,557.78 237.06,557.78 243.65,555.88 250.23,553.42 256.81,551.52 263.4,552.47 269.99,554.74 276.57,559.67 283.15,563.65 289.74,565.35 296.32,565.35 302.91,569.52 309.5,574.26 316.08,583.73 322.67,586.19 329.25,592.25 335.83,592.25 342.42,586.19 349,583.73 355.59,587.52 362.18,598.5 368.76,591.87 375.34,586.19 381.93,574.26 388.51,574.26 395.1,567.63 401.69,562.89 408.27,557.59 414.86,558.15 421.44,561.94 428.02,564.22 434.61,570.47 441.19,581.83 447.78,596.99 454.37,607.41 460.95,610.25 467.54,609.68 474.12,608.35 480.7,605.51 487.29,599.83 493.88,593.2 500.46,589.98 507.05,593.77 513.63,596.42 520.22,596.04 526.8,590.36 533.38,579.94 539.97,571.41 546.55,563.84 553.14,559.1 559.73,561.94 566.31,560.62 572.89,561 579.48,557.21 586.06,559.67 592.65,564.22 599.24,565.35 605.82,567.25 612.4,567.25 618.99,571.41 625.58,574.82 632.16,579.56 638.75,586.57 645.33,596.99 651.91,604.56 658.5,610.63 665.09,607.97 671.67,605.51 678.25,597.93 684.84,589.41 691.42,585.05 698.01,581.45 704.6,583.73 711.18,581.83 717.76,579.94 724.35,575.77 730.93,571.98 737.52,564.78 744.11,560.43 750.69,555.69 757.27,554.37 763.86,556.26 770.45,557.21 777.03,557.59 783.62,553.42 790.2,557.21 796.78,560.43 803.37,565.35 809.96,572.36 816.54,582.4 823.12,592.63 829.71,591.68 836.29,584.3 842.88,572.36 849.47,562.89 856.05,554.84 862.63,552.09 869.22,556.26 875.8,563.46 882.39,567.63 888.98,562.89 895.56,560.05 902.14,556.83 908.73,559.67 915.31,561.37 921.9,567.25 928.49,567.25 935.07,568.57 941.65,577.67 948.24,593.77 954.83,598.88 961.41,590.36 968,577.67 974.58,570.47 981.16,561 987.75,558.15 994.34,557.21 1000.92,558.53 1007.5,559.67 1014.09,564.41 1020.67,567.25 1027.26,565.73 1033.85,567.25 1040.43,568.19 1047.02,575.2 1053.6,568.19 1060.18,568.57 1066.77,561.94 1073.36,562.51 1079.94,559.67 1086.53,561 1093.11,565.73 1099.69,569.52 1106.28,572.93 1112.87,575.58 1119.45,574.63 1126.04,573.69 1132.62,572.36 1139.2,571.41 1145.79,569.14 1152.38,566.68 1158.96,565.35 1165.55,561.94 1172.13,563.46 1178.71,561.94 1185.3,561.37 1191.88,555.88 1198.47,555.31 1205.06,560.43 1211.64,561.56 1218.22,562.89 1224.81,570.47 1231.39,583.73 1237.98,597.37 1244.57,605.13 1251.15,600.78 1257.73,583.35 1264.32,564.22 1270.9,555.31 1277.49,557.21 1284.08,559.1 1290.66,562.51 1297.24,564.22 1303.83,560.05 1310.41,555.31 1317,552.09 1323.59,552.47 1330.17,553.04 1336.75,553.42 1343.34,553.99 1349.92,556.64 1356.51,558.72 1363.1,560.43 1369.68,564.78 1376.27,568 1382.85,575.2 1389.43,587.52 1396.02,598.88 1402.61,603.24 1409.19,592.63 1415.78,581.45 1422.36,575.2" fill="none" stroke="#ff2020" stroke-width="1.1" stroke-linejoin="round" />
<rect x="0" y="540" width="1422.6" height="23.5" fill="rgba(0,255,0,0.5)"/>
<rect x="0" y="602.5" width="1422.6" height="30" fill="rgba(255,0,0,0.5)"/>
<line x1="0" y1="563.5" x2="1422.6" y2="563.5" stroke="#000" stroke-width="1.2" stroke-dasharray="6.25 0.33" opacity="0.85"/>
<line x1="0" y1="602.5" x2="1422.6" y2="602.5" stroke="#000" stroke-width="1.2" stroke-dasharray="6.25 0.33" opacity="0.85"/>
<line x1="0.6" y1="550" x2="0.6" y2="563.5" stroke="rgba(0,0,0,0.75)" stroke-width="1.2"/>
<line x1="0.6" y1="602.5" x2="0.6" y2="617" stroke="rgba(0,0,0,0.75)" stroke-width="1.2"/>
<line x1="1422.6" y1="550" x2="1422.6" y2="563.5" stroke="rgba(0,0,0,0.75)" stroke-width="1.2"/>
<line x1="1422.6" y1="602.5" x2="1422.6" y2="617" stroke="rgba(0,0,0,0.75)" stroke-width="1.2"/>
</g>
<g transform="translate(15.5,298.6)" opacity="1">
<path d="M0,0h11.5v4.2h-7.3v6.8h5.2v4.2h-5.2v10.8h-4.2z" fill="#8c90a0"/><path d="M12.3,0h4.4l1.9,8 1.9,-8h4.4l-3.9,12.8 4.1,13.2h-4.5l-2,-8.4 -2,8.4h-4.5l4.1,-13.2z" fill="#8c90a0"/><path d="M32.3,-0.3c4.2,0 6.1,2.6 6.1,6.8v1.3h-4.1v-1.6c0,-1.7 -0.6,-2.6 -1.9,-2.6s-1.9,0.9 -1.9,2.6c0,5 8,5.6 8,12.9c0,4.3 -2,7.2 -6.3,7.2s-6.3,-2.9 -6.3,-7.2v-2.3h4.1v2.6c0,1.8 0.7,2.6 2.1,2.6s2.1,-0.8 2.1,-2.6c0,-5 -8,-5.6 -8,-12.9c0,-4.2 1.9,-6.8 6.1,-6.8z" fill="#f0c189"/><path d="M39.2,0h12.6v4.2h-4.2v21.8h-4.2v-21.8h-4.2z" fill="#f0c189"/><path d="M53.8,0h6.6c4.2,0 6,2.2 6,6.2v2c0,2.7 -0.8,4.4 -2.6,5.3c2,0.9 2.7,2.9 2.7,5.7v4c0,1.1 0.1,2 0.4,2.8h-4.3c-0.2,-0.7 -0.3,-1.1 -0.3,-2.9v-4.1c0,-2.3 -0.8,-3.1 -2.7,-3.1h-1.6v10.1h-4.2zM58.0,4.2v7.9h1.8c1.5,0 2.4,-0.7 2.4,-2.8v-2.5c0,-1.8 -0.6,-2.6 -2,-2.6z" fill="#f0c189" fill-rule="evenodd"/><path d="M68.3,0h11.8v4.2h-7.6v6.6h6v4.2h-6v6.8h7.6v4.2h-11.8z" fill="#f0c189"/><path d="M82.6,0h11.8v4.2h-7.6v6.6h6v4.2h-6v6.8h7.6v4.2h-11.8z" fill="#f0c189"/><path d="M96.6,0h12.6v4.2h-4.2v21.8h-4.2v-21.8h-4.2z" fill="#f0c189"/>
</g>
<line x1="1" y1="302" x2="1460.0" y2="302" stroke="#ff0000" stroke-width="2.2"/>
<line x1="1462" y1="31.5" x2="1466.5" y2="31.5" stroke="#888" stroke-width="1"/>
<text filter="url(#ga)" x="1469.5" y="35.2" class="ax">114.000</text>
<line x1="1462" y1="65.5" x2="1466.5" y2="65.5" stroke="#888" stroke-width="1"/>
<text filter="url(#ga)" x="1469.5" y="69.2" class="ax">113.500</text>
<line x1="1462" y1="99.5" x2="1466.5" y2="99.5" stroke="#888" stroke-width="1"/>
<text filter="url(#ga)" x="1469.5" y="103.2" class="ax">113.000</text>
<line x1="1462" y1="133.5" x2="1466.5" y2="133.5" stroke="#888" stroke-width="1"/>
<text filter="url(#ga)" x="1469.5" y="137.2" class="ax">112.500</text>
<line x1="1462" y1="167.5" x2="1466.5" y2="167.5" stroke="#888" stroke-width="1"/>
<text filter="url(#ga)" x="1469.5" y="171.2" class="ax">112.000</text>
<line x1="1462" y1="201.5" x2="1466.5" y2="201.5" stroke="#888" stroke-width="1"/>
<text filter="url(#ga)" x="1469.5" y="205.2" class="ax">111.500</text>
<line x1="1462" y1="235.5" x2="1466.5" y2="235.5" stroke="#888" stroke-width="1"/>
<text filter="url(#ga)" x="1469.5" y="239.2" class="ax">111.000</text>
<line x1="1462" y1="269.5" x2="1466.5" y2="269.5" stroke="#888" stroke-width="1"/>
<text filter="url(#ga)" x="1469.5" y="273.2" class="ax">110.500</text>
<line x1="1462" y1="302.5" x2="1466.5" y2="302.5" stroke="#888" stroke-width="1"/>
<text filter="url(#ga)" x="1469.5" y="306.2" class="ax">110.000</text>
<line x1="1462" y1="336.5" x2="1466.5" y2="336.5" stroke="#888" stroke-width="1"/>
<text filter="url(#ga)" x="1469.5" y="340.2" class="ax">109.500</text>
<line x1="1462" y1="381.5" x2="1466.5" y2="381.5" stroke="#888" stroke-width="1"/>
<text filter="url(#ga)" x="1469.5" y="385.2" class="ax">75.000</text>
<line x1="1462" y1="408.5" x2="1466.5" y2="408.5" stroke="#888" stroke-width="1"/>
<text filter="url(#ga)" x="1469.5" y="412.2" class="ax">50.000</text>
<line x1="1462" y1="434.5" x2="1466.5" y2="434.5" stroke="#888" stroke-width="1"/>
<text filter="url(#ga)" x="1469.5" y="438.2" class="ax">25.000</text>
<line x1="1462" y1="461" x2="1466.5" y2="461" stroke="#888" stroke-width="1"/>
<text filter="url(#ga)" x="1469.5" y="464.7" class="ax">0.000</text>
<line x1="1462" y1="488.5" x2="1466.5" y2="488.5" stroke="#888" stroke-width="1"/>
<text filter="url(#ga)" x="1469.5" y="492.2" class="ax">0.200</text>
<line x1="1462" y1="514.5" x2="1466.5" y2="514.5" stroke="#888" stroke-width="1"/>
<text filter="url(#ga)" x="1469.5" y="518.2" class="ax">-0.000</text>
<line x1="1462" y1="583.5" x2="1466.5" y2="583.5" stroke="#888" stroke-width="1"/>
<text filter="url(#ga)" x="1469.5" y="587.2" class="ax">50.000</text>
<line x1="1462" y1="616" x2="1466.5" y2="616" stroke="#888" stroke-width="1"/>
<text filter="url(#ga)" x="1469.5" y="619.7" class="ax">0.000</text>
<path d="M1461.5,41.5l3,-3.5v-3.5q0,-1 1,-1h46q1,0 1,1v14q0,1 -1,1h-46q-1,0 -1,-1v-3.5z" fill="#2e4a73"/>
<text filter="url(#ga)" x="1469.5" y="45.6" class="pl">113.854</text>
<line x1="0.5" y1="617.8" x2="0.5" y2="620" stroke="#555" stroke-width="1"/>
<text filter="url(#ga)" x="0" y="633.4" class="ax">Aug</text>
<line x1="53.5" y1="617.8" x2="53.5" y2="620" stroke="#555" stroke-width="1"/>
<text filter="url(#ga)" x="52.6" y="633.4" class="ax" text-anchor="middle">17</text>
<line x1="92.5" y1="617.8" x2="92.5" y2="620" stroke="#555" stroke-width="1"/>
<text filter="url(#ga)" x="92.4" y="633.4" class="ax" text-anchor="middle">19</text>
<line x1="138.5" y1="617.8" x2="138.5" y2="620" stroke="#555" stroke-width="1"/>
<text filter="url(#ga)" x="137.9" y="633.4" class="ax" text-anchor="middle">21</text>
<line x1="178.5" y1="617.8" x2="178.5" y2="620" stroke="#555" stroke-width="1"/>
<text filter="url(#ga)" x="177.6" y="633.4" class="ax" text-anchor="middle">22</text>
<line x1="217.5" y1="617.8" x2="217.5" y2="620" stroke="#555" stroke-width="1"/>
<text filter="url(#ga)" x="217.4" y="633.4" class="ax" text-anchor="middle">23</text>
<line x1="257.5" y1="617.8" x2="257.5" y2="620" stroke="#555" stroke-width="1"/>
<text filter="url(#ga)" x="256.8" y="633.4" class="ax" text-anchor="middle">24</text>
<line x1="296.5" y1="617.8" x2="296.5" y2="620" stroke="#555" stroke-width="1"/>
<text filter="url(#ga)" x="296.2" y="633.4" class="ax" text-anchor="middle">26</text>
<line x1="342.5" y1="617.8" x2="342.5" y2="620" stroke="#555" stroke-width="1"/>
<text filter="url(#ga)" x="342.4" y="633.4" class="ax" text-anchor="middle">28</text>
<line x1="382.5" y1="617.8" x2="382.5" y2="620" stroke="#555" stroke-width="1"/>
<text filter="url(#ga)" x="382.1" y="633.4" class="ax" text-anchor="middle">29</text>
<line x1="422.5" y1="617.8" x2="422.5" y2="620" stroke="#555" stroke-width="1"/>
<text filter="url(#ga)" x="421.5" y="633.4" class="ax" text-anchor="middle">30</text>
<line x1="461.5" y1="617.8" x2="461.5" y2="620" stroke="#555" stroke-width="1"/>
<text filter="url(#ga)" x="461" y="633.4" class="ax" text-anchor="middle">31</text>
<line x1="500.5" y1="617.8" x2="500.5" y2="620" stroke="#555" stroke-width="1"/>
<text filter="url(#ga)" x="500.3" y="633.4" class="ax" text-anchor="middle">Sep</text>
<line x1="546.5" y1="617.8" x2="546.5" y2="620" stroke="#555" stroke-width="1"/>
<text filter="url(#ga)" x="546.5" y="633.4" class="ax" text-anchor="middle">4</text>
<line x1="586.5" y1="617.8" x2="586.5" y2="620" stroke="#555" stroke-width="1"/>
<text filter="url(#ga)" x="585.9" y="633.4" class="ax" text-anchor="middle">5</text>
<line x1="625.5" y1="617.8" x2="625.5" y2="620" stroke="#555" stroke-width="1"/>
<text filter="url(#ga)" x="625.3" y="633.4" class="ax" text-anchor="middle">6</text>
<line x1="665.5" y1="617.8" x2="665.5" y2="620" stroke="#555" stroke-width="1"/>
<text filter="url(#ga)" x="664.7" y="633.4" class="ax" text-anchor="middle">7</text>
<line x1="704.5" y1="617.8" x2="704.5" y2="620" stroke="#555" stroke-width="1"/>
<text filter="url(#ga)" x="704.1" y="633.4" class="ax" text-anchor="middle">9</text>
<line x1="751.5" y1="617.8" x2="751.5" y2="620" stroke="#555" stroke-width="1"/>
<text filter="url(#ga)" x="750.7" y="633.4" class="ax" text-anchor="middle">11</text>
<line x1="790.5" y1="617.8" x2="790.5" y2="620" stroke="#555" stroke-width="1"/>
<text filter="url(#ga)" x="790.1" y="633.4" class="ax" text-anchor="middle">12</text>
<line x1="830.5" y1="617.8" x2="830.5" y2="620" stroke="#555" stroke-width="1"/>
<text filter="url(#ga)" x="829.8" y="633.4" class="ax" text-anchor="middle">13</text>
<line x1="869.5" y1="617.8" x2="869.5" y2="620" stroke="#555" stroke-width="1"/>
<text filter="url(#ga)" x="869.2" y="633.4" class="ax" text-anchor="middle">14</text>
<line x1="909.5" y1="617.8" x2="909.5" y2="620" stroke="#555" stroke-width="1"/>
<text filter="url(#ga)" x="908.6" y="633.4" class="ax" text-anchor="middle">16</text>
<line x1="955.5" y1="617.8" x2="955.5" y2="620" stroke="#555" stroke-width="1"/>
<text filter="url(#ga)" x="954.8" y="633.4" class="ax" text-anchor="middle">18</text>
<line x1="994.5" y1="617.8" x2="994.5" y2="620" stroke="#555" stroke-width="1"/>
<text filter="url(#ga)" x="994.2" y="633.4" class="ax" text-anchor="middle">19</text>
<line x1="1033.5" y1="617.8" x2="1033.5" y2="620" stroke="#555" stroke-width="1"/>
<text filter="url(#ga)" x="1033.4" y="633.4" class="ax" text-anchor="middle">20</text>
<line x1="1073.5" y1="617.8" x2="1073.5" y2="620" stroke="#555" stroke-width="1"/>
<text filter="url(#ga)" x="1073.2" y="633.4" class="ax" text-anchor="middle">21</text>
<line x1="1113.5" y1="617.8" x2="1113.5" y2="620" stroke="#555" stroke-width="1"/>
<text filter="url(#ga)" x="1112.6" y="633.4" class="ax" text-anchor="middle">23</text>
<line x1="1159.5" y1="617.8" x2="1159.5" y2="620" stroke="#555" stroke-width="1"/>
<text filter="url(#ga)" x="1158.8" y="633.4" class="ax" text-anchor="middle">25</text>
<line x1="1198.5" y1="617.8" x2="1198.5" y2="620" stroke="#555" stroke-width="1"/>
<text filter="url(#ga)" x="1198.2" y="633.4" class="ax" text-anchor="middle">26</text>
<line x1="1238.5" y1="617.8" x2="1238.5" y2="620" stroke="#555" stroke-width="1"/>
<text filter="url(#ga)" x="1237.9" y="633.4" class="ax" text-anchor="middle">27</text>
<line x1="1277.5" y1="617.8" x2="1277.5" y2="620" stroke="#555" stroke-width="1"/>
<text filter="url(#ga)" x="1277.3" y="633.4" class="ax" text-anchor="middle">28</text>
<line x1="1324.5" y1="617.8" x2="1324.5" y2="620" stroke="#555" stroke-width="1"/>
<text filter="url(#ga)" x="1323.5" y="633.4" class="ax" text-anchor="middle">Oct</text>
<line x1="1363.5" y1="617.8" x2="1363.5" y2="620" stroke="#555" stroke-width="1"/>
<text filter="url(#ga)" x="1362.9" y="633.4" class="ax" text-anchor="middle">2</text>
<line x1="1402.5" y1="617.8" x2="1402.5" y2="620" stroke="#555" stroke-width="1"/>
<text filter="url(#ga)" x="1402.3" y="633.4" class="ax" text-anchor="middle">3</text>
<line x1="720" y1="347.5" x2="740" y2="347.5" stroke="#6e6965" stroke-width="1.1"/>
<line x1="720" y1="349.5" x2="740" y2="349.5" stroke="#6e6965" stroke-width="1.1"/>
<line x1="720" y1="351.5" x2="740" y2="351.5" stroke="#6e6965" stroke-width="1.1"/>
<line x1="720" y1="465.5" x2="740" y2="465.5" stroke="#6e6965" stroke-width="1.1"/>
<line x1="720" y1="467.5" x2="740" y2="467.5" stroke="#6e6965" stroke-width="1.1"/>
<line x1="720" y1="469.5" x2="740" y2="469.5" stroke="#6e6965" stroke-width="1.1"/>
<line x1="720" y1="542.5" x2="740" y2="542.5" stroke="#6e6965" stroke-width="1.1"/>
<line x1="720" y1="544.5" x2="740" y2="544.5" stroke="#6e6965" stroke-width="1.1"/>
<line x1="720" y1="546.5" x2="740" y2="546.5" stroke="#6e6965" stroke-width="1.1"/>
<rect x="5" y="5" width="76" height="21" fill="rgba(0,0,0,0.61)"/>
<rect x="5" y="5" width="2" height="21" fill="#2f8a73"/>
<text filter="url(#ga)" x="16" y="19.700000000000003" class="lb">USD/JPY</text>
<rect x="5" y="32" width="84" height="21" fill="rgba(0,0,0,0.61)"/>
<rect x="5" y="32" width="2" height="21" fill="#ff0000"/>
<text filter="url(#ga)" x="16" y="46.1" class="lb">SMA (50,0)</text>
<rect x="5" y="59" width="90" height="21" fill="rgba(0,0,0,0.61)"/>
<rect x="5" y="59" width="2" height="21" fill="#1f4fc8"/>
<text filter="url(#ga)" x="16" y="73.1" class="lb">SMA (100,0)</text>
<rect x="5" y="86" width="90" height="21" fill="rgba(0,0,0,0.61)"/>
<rect x="5" y="86" width="2" height="21" fill="#ff00ff"/>
<text filter="url(#ga)" x="16" y="100.1" class="lb">SMA (200,0)</text>
<rect x="5" y="358" width="110" height="21" fill="rgba(0,0,0,0.61)"/>
<rect x="5" y="358" width="2" height="21" fill="#0000ff"/>
<text filter="url(#ga)" x="16" y="372.1" class="lb">RSI (14,70,30,1)</text>
<rect x="5" y="476" width="109" height="21" fill="rgba(0,0,0,0.61)"/>
<rect x="5" y="476" width="2" height="21" fill="#0000ff"/>
<text filter="url(#ga)" x="16" y="490.1" class="lb">MACD (12,26,9)</text>
<rect x="5" y="553" width="138" height="21" fill="rgba(0,0,0,0.61)"/>
<rect x="5" y="553" width="2" height="21" fill="#ff0000"/>
<text filter="url(#ga)" x="16" y="567.1" class="lb">FUSTO (14,3,3,80,20)</text>
<line x1="1" y1="96.5" x2="96" y2="96.5" stroke="#9a9a9a" stroke-width="1"/>
</svg>
</body></html>
